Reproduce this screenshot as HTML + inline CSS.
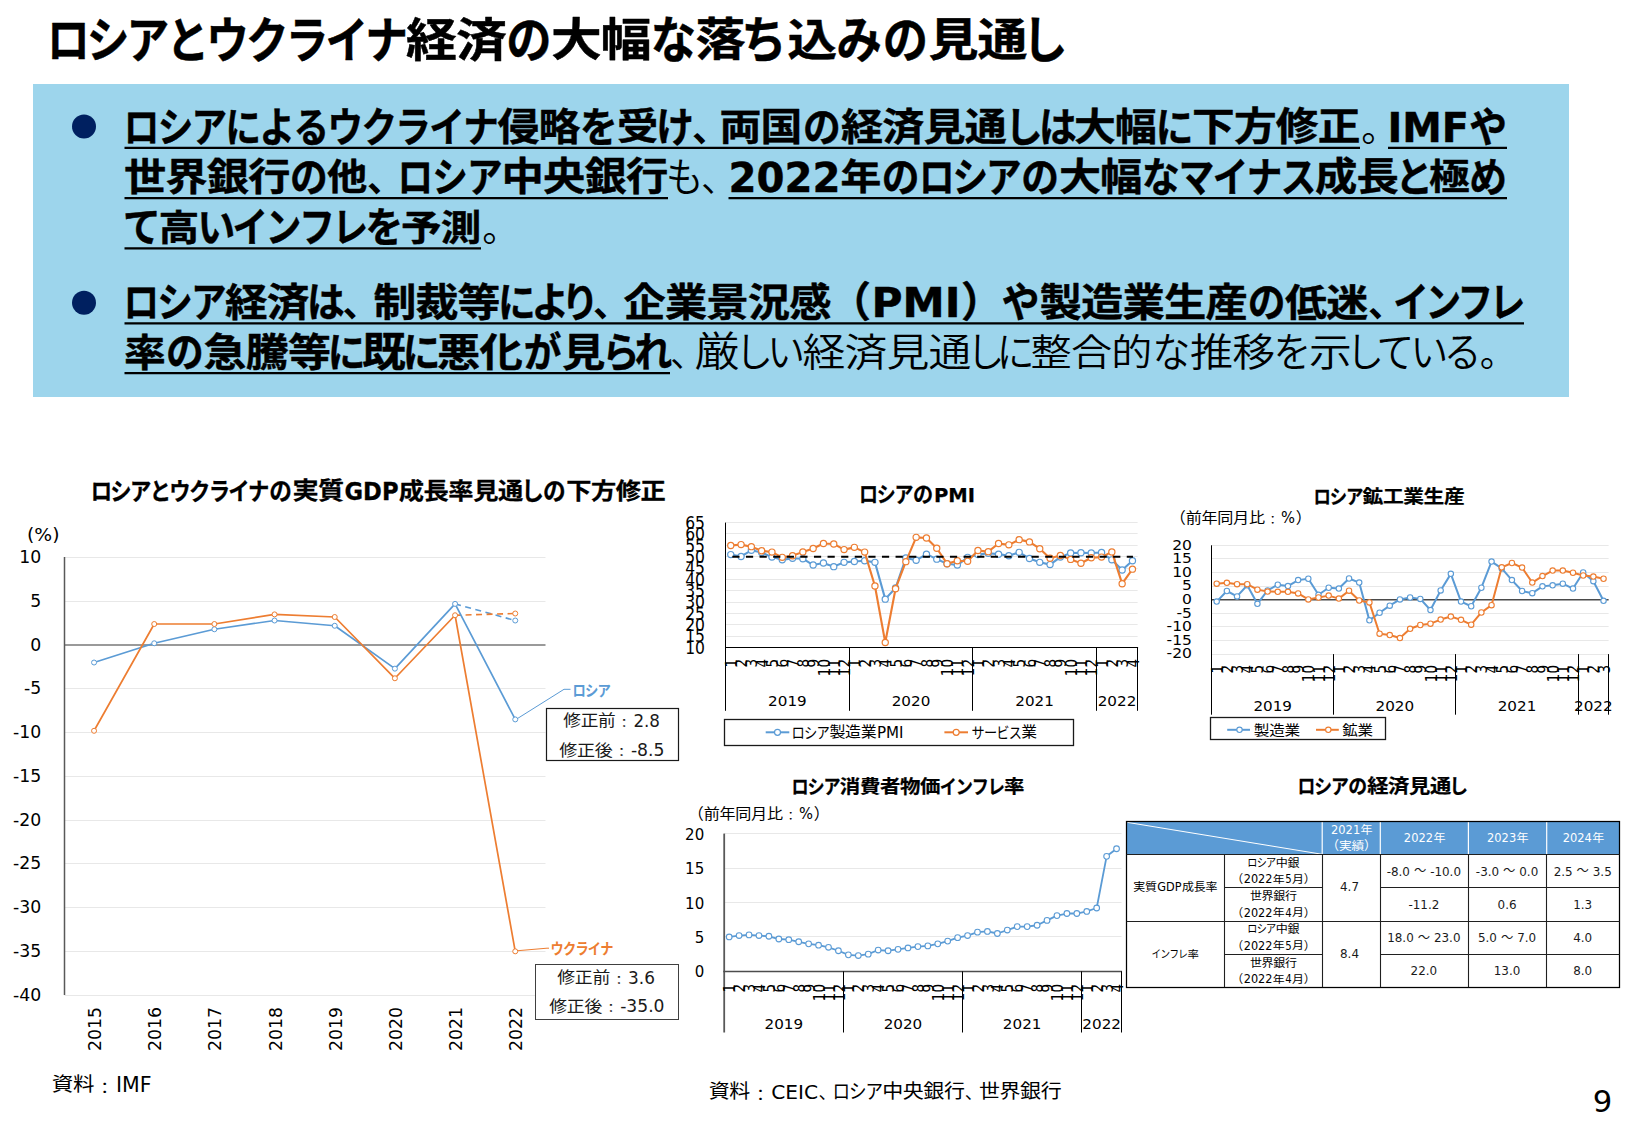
<!DOCTYPE html>
<html lang="ja"><head><meta charset="utf-8"><title>ロシアとウクライナ経済の大幅な落ち込みの見通し</title>
<style>
html,body{margin:0;padding:0;background:#fff;}
body{width:1625px;height:1125px;overflow:hidden;font-family:"Liberation Sans","Noto Sans CJK JP",sans-serif;}
svg{display:block;}
text{white-space:pre;}
</style></head><body>
<svg width="1625" height="1125" viewBox="0 0 1625 1125">
<text transform="translate(68.39,58.20) scale(0.8750,1.0000)" x="-24.38 21.09 66.55 112.01 157.47 202.93 248.39 293.85 339.31" y="0" font-size="48.75" font-weight="700" fill="#000" stroke="#000" stroke-width="0.5" stroke-linejoin="round" font-family='"Liberation Sans","Noto Sans CJK JP",sans-serif'>ロシアとウクライナ</text>
<text transform="translate(431.50,56.20) scale(1.0200,0.9200)" x="-25.00 24.02" y="0" font-size="50.00" font-weight="700" fill="#000" stroke="#000" stroke-width="0.5" stroke-linejoin="round" font-family='"Liberation Sans","Noto Sans CJK JP",sans-serif'>経済</text>
<text transform="translate(529.00,58.20) scale(0.9150,1.0000)" x="-24.75" y="0" font-size="49.50" font-weight="700" fill="#000" stroke="#000" stroke-width="0.5" stroke-linejoin="round" font-family='"Liberation Sans","Noto Sans CJK JP",sans-serif'>の</text>
<text transform="translate(576.38,56.20) scale(1.0200,0.9200)" x="-24.88 23.90" y="0" font-size="49.75" font-weight="700" fill="#000" stroke="#000" stroke-width="0.5" stroke-linejoin="round" font-family='"Liberation Sans","Noto Sans CJK JP",sans-serif'>大幅</text>
<text transform="translate(673.50,58.20) scale(0.9150,1.0000)" x="-24.75" y="0" font-size="49.50" font-weight="700" fill="#000" stroke="#000" stroke-width="0.5" stroke-linejoin="round" font-family='"Liberation Sans","Noto Sans CJK JP",sans-serif'>な</text>
<text transform="translate(720.50,56.20) scale(1.0200,0.9200)" x="-24.50" y="0" font-size="49.00" font-weight="700" fill="#000" stroke="#000" stroke-width="0.5" stroke-linejoin="round" font-family='"Liberation Sans","Noto Sans CJK JP",sans-serif'>落</text>
<text transform="translate(764.00,58.20) scale(0.9150,1.0000)" x="-24.75" y="0" font-size="49.50" font-weight="700" fill="#000" stroke="#000" stroke-width="0.5" stroke-linejoin="round" font-family='"Liberation Sans","Noto Sans CJK JP",sans-serif'>ち</text>
<text transform="translate(812.25,56.20) scale(1.0200,0.9200)" x="-24.25" y="0" font-size="48.50" font-weight="700" fill="#000" stroke="#000" stroke-width="0.5" stroke-linejoin="round" font-family='"Liberation Sans","Noto Sans CJK JP",sans-serif'>込</text>
<text transform="translate(859.25,58.20) scale(0.9150,1.0000)" x="-24.75" y="0" font-size="49.50" font-weight="700" fill="#000" stroke="#000" stroke-width="0.5" stroke-linejoin="round" font-family='"Liberation Sans","Noto Sans CJK JP",sans-serif'>み</text>
<text transform="translate(905.50,58.20) scale(0.9150,1.0000)" x="-24.75" y="0" font-size="49.50" font-weight="700" fill="#000" stroke="#000" stroke-width="0.5" stroke-linejoin="round" font-family='"Liberation Sans","Noto Sans CJK JP",sans-serif'>の</text>
<text transform="translate(953.50,56.20) scale(1.0200,0.9200)" x="-24.50 23.54" y="0" font-size="49.00" font-weight="700" fill="#000" stroke="#000" stroke-width="0.5" stroke-linejoin="round" font-family='"Liberation Sans","Noto Sans CJK JP",sans-serif'>見通</text>
<text transform="translate(1045.00,58.20) scale(0.9150,1.0000)" x="-24.75" y="0" font-size="49.50" font-weight="700" fill="#000" stroke="#000" stroke-width="0.5" stroke-linejoin="round" font-family='"Liberation Sans","Noto Sans CJK JP",sans-serif'>し</text>
<rect x="33.00" y="84.00" width="1536.00" height="313.00" fill="#9dd5ec" stroke="none" stroke-width="1" />
<circle cx="84" cy="126.5" r="12" fill="#002060"/>
<circle cx="84" cy="302.8" r="12" fill="#002060"/>
<text transform="translate(141.48,141.60) scale(0.8750,1.0000)" x="-20.31 18.49 57.30 96.10 134.91 173.71 212.52 251.32 290.13 328.93 367.74" y="0" font-size="40.63" font-weight="700" fill="#000" stroke="#000" stroke-width="0.45" stroke-linejoin="round" font-family='"Liberation Sans","Noto Sans CJK JP",sans-serif'>ロシアによるウクライナ</text>
<text transform="translate(518.50,139.93) scale(1.0200,0.9200)" x="-20.50 19.70" y="0" font-size="41.00" font-weight="700" fill="#000" stroke="#000" stroke-width="0.45" stroke-linejoin="round" font-family='"Liberation Sans","Noto Sans CJK JP",sans-serif'>侵略</text>
<text transform="translate(598.75,141.60) scale(0.9150,1.0000)" x="-20.63" y="0" font-size="41.25" font-weight="700" fill="#000" stroke="#000" stroke-width="0.45" stroke-linejoin="round" font-family='"Liberation Sans","Noto Sans CJK JP",sans-serif'>を</text>
<text transform="translate(637.75,139.93) scale(1.0200,0.9200)" x="-20.25" y="0" font-size="40.50" font-weight="700" fill="#000" stroke="#000" stroke-width="0.45" stroke-linejoin="round" font-family='"Liberation Sans","Noto Sans CJK JP",sans-serif'>受</text>
<text transform="translate(675.00,141.60) scale(0.9150,1.0000)" x="-20.63" y="0" font-size="41.25" font-weight="700" fill="#000" stroke="#000" stroke-width="0.45" stroke-linejoin="round" font-family='"Liberation Sans","Noto Sans CJK JP",sans-serif'>け</text>
<text transform="translate(710.33,141.60) scale(1.0000,1.0000)" x="-18.33" y="0" font-size="36.67" font-weight="700" fill="#000" font-family='"Liberation Sans","Noto Sans CJK JP",sans-serif'>、</text>
<text transform="translate(740.50,139.93) scale(1.0200,0.9200)" x="-20.50 19.70" y="0" font-size="41.00" font-weight="700" fill="#000" stroke="#000" stroke-width="0.45" stroke-linejoin="round" font-family='"Liberation Sans","Noto Sans CJK JP",sans-serif'>両国</text>
<text transform="translate(821.75,141.60) scale(0.9150,1.0000)" x="-20.63" y="0" font-size="41.25" font-weight="700" fill="#000" stroke="#000" stroke-width="0.45" stroke-linejoin="round" font-family='"Liberation Sans","Noto Sans CJK JP",sans-serif'>の</text>
<text transform="translate(862.12,139.93) scale(1.0200,0.9200)" x="-20.62 19.82 60.26 100.70" y="0" font-size="41.25" font-weight="700" fill="#000" stroke="#000" stroke-width="0.45" stroke-linejoin="round" font-family='"Liberation Sans","Noto Sans CJK JP",sans-serif'>経済見通</text>
<text transform="translate(1023.75,141.60) scale(0.9150,1.0000)" x="-20.63" y="0" font-size="41.25" font-weight="700" fill="#000" stroke="#000" stroke-width="0.45" stroke-linejoin="round" font-family='"Liberation Sans","Noto Sans CJK JP",sans-serif'>し</text>
<text transform="translate(1057.75,141.60) scale(0.9150,1.0000)" x="-20.63" y="0" font-size="41.25" font-weight="700" fill="#000" stroke="#000" stroke-width="0.45" stroke-linejoin="round" font-family='"Liberation Sans","Noto Sans CJK JP",sans-serif'>は</text>
<text transform="translate(1095.00,139.93) scale(1.0200,0.9200)" x="-20.50 19.70" y="0" font-size="41.00" font-weight="700" fill="#000" stroke="#000" stroke-width="0.45" stroke-linejoin="round" font-family='"Liberation Sans","Noto Sans CJK JP",sans-serif'>大幅</text>
<text transform="translate(1174.50,141.60) scale(0.9150,1.0000)" x="-20.63" y="0" font-size="41.25" font-weight="700" fill="#000" stroke="#000" stroke-width="0.45" stroke-linejoin="round" font-family='"Liberation Sans","Noto Sans CJK JP",sans-serif'>に</text>
<text transform="translate(1213.44,139.93) scale(1.0200,0.9200)" x="-20.94 20.12 61.17 102.22" y="0" font-size="41.88" font-weight="700" fill="#000" stroke="#000" stroke-width="0.45" stroke-linejoin="round" font-family='"Liberation Sans","Noto Sans CJK JP",sans-serif'>下方修正</text>
<text transform="translate(1379.58,141.60) scale(1.0000,1.0000)" x="-18.33" y="0" font-size="36.67" font-weight="350" fill="#000" font-family='"Liberation Sans","Noto Sans CJK JP",sans-serif'>。</text>
<text x="1387.50" y="141.60" font-size="40.84" font-weight="700" fill="#000" stroke="#000" stroke-width="0.45" textLength="81.50" lengthAdjust="spacingAndGlyphs" font-family='"DejaVu Sans","Noto Sans CJK JP",sans-serif'>IMF</text>
<text transform="translate(1488.00,141.60) scale(0.9150,1.0000)" x="-20.63" y="0" font-size="41.25" font-weight="700" fill="#000" stroke="#000" stroke-width="0.45" stroke-linejoin="round" font-family='"Liberation Sans","Noto Sans CJK JP",sans-serif'>や</text>
<line x1="124.50" y1="147.80" x2="1360.00" y2="147.80" stroke="#000" stroke-width="2.2" />
<line x1="1388.00" y1="147.80" x2="1507.00" y2="147.80" stroke="#000" stroke-width="2.2" />
<text transform="translate(145.19,190.23) scale(1.0200,0.9200)" x="-20.69 19.88 60.44 101.00" y="0" font-size="41.38" font-weight="700" fill="#000" stroke="#000" stroke-width="0.45" stroke-linejoin="round" font-family='"Liberation Sans","Noto Sans CJK JP",sans-serif'>世界銀行</text>
<text transform="translate(308.75,191.90) scale(0.9150,1.0000)" x="-20.63" y="0" font-size="41.25" font-weight="700" fill="#000" stroke="#000" stroke-width="0.45" stroke-linejoin="round" font-family='"Liberation Sans","Noto Sans CJK JP",sans-serif'>の</text>
<text transform="translate(347.25,190.23) scale(1.0200,0.9200)" x="-19.75" y="0" font-size="39.50" font-weight="700" fill="#000" stroke="#000" stroke-width="0.45" stroke-linejoin="round" font-family='"Liberation Sans","Noto Sans CJK JP",sans-serif'>他</text>
<text transform="translate(385.33,191.90) scale(1.0000,1.0000)" x="-18.33" y="0" font-size="36.67" font-weight="700" fill="#000" font-family='"Liberation Sans","Noto Sans CJK JP",sans-serif'>、</text>
<text transform="translate(415.33,191.90) scale(0.8750,1.0000)" x="-20.31 19.30 58.92" y="0" font-size="40.63" font-weight="700" fill="#000" stroke="#000" stroke-width="0.45" stroke-linejoin="round" font-family='"Liberation Sans","Noto Sans CJK JP",sans-serif'>ロシア</text>
<text transform="translate(522.75,190.23) scale(1.0200,0.9200)" x="-20.75 19.94 60.62 101.31" y="0" font-size="41.50" font-weight="700" fill="#000" stroke="#000" stroke-width="0.45" stroke-linejoin="round" font-family='"Liberation Sans","Noto Sans CJK JP",sans-serif'>中央銀行</text>
<text transform="translate(684.50,191.90) scale(0.9150,1.0000)" x="-20.63" y="0" font-size="41.25" font-weight="350" fill="#000" font-family='"Liberation Sans","Noto Sans CJK JP",sans-serif'>も</text>
<text transform="translate(719.33,191.90) scale(1.0000,1.0000)" x="-18.33" y="0" font-size="36.67" font-weight="350" fill="#000" font-family='"Liberation Sans","Noto Sans CJK JP",sans-serif'>、</text>
<text x="728.50" y="191.90" font-size="40.84" font-weight="700" fill="#000" stroke="#000" stroke-width="0.45" textLength="112.00" lengthAdjust="spacingAndGlyphs" font-family='"DejaVu Sans","Noto Sans CJK JP",sans-serif'>2022</text>
<text transform="translate(861.00,190.23) scale(1.0200,0.9200)" x="-20.00" y="0" font-size="40.00" font-weight="700" fill="#000" stroke="#000" stroke-width="0.45" stroke-linejoin="round" font-family='"Liberation Sans","Noto Sans CJK JP",sans-serif'>年</text>
<text transform="translate(900.50,191.90) scale(0.9150,1.0000)" x="-20.63" y="0" font-size="41.25" font-weight="700" fill="#000" stroke="#000" stroke-width="0.45" stroke-linejoin="round" font-family='"Liberation Sans","Noto Sans CJK JP",sans-serif'>の</text>
<text transform="translate(936.75,191.90) scale(0.8750,1.0000)" x="-20.31 17.97 56.26" y="0" font-size="40.63" font-weight="700" fill="#000" stroke="#000" stroke-width="0.45" stroke-linejoin="round" font-family='"Liberation Sans","Noto Sans CJK JP",sans-serif'>ロシア</text>
<text transform="translate(1040.00,191.90) scale(0.9150,1.0000)" x="-20.63" y="0" font-size="41.25" font-weight="700" fill="#000" stroke="#000" stroke-width="0.45" stroke-linejoin="round" font-family='"Liberation Sans","Noto Sans CJK JP",sans-serif'>の</text>
<text transform="translate(1080.12,190.23) scale(1.0200,0.9200)" x="-20.62 19.82" y="0" font-size="41.25" font-weight="700" fill="#000" stroke="#000" stroke-width="0.45" stroke-linejoin="round" font-family='"Liberation Sans","Noto Sans CJK JP",sans-serif'>大幅</text>
<text transform="translate(1160.75,191.90) scale(0.9150,1.0000)" x="-20.63" y="0" font-size="41.25" font-weight="700" fill="#000" stroke="#000" stroke-width="0.45" stroke-linejoin="round" font-family='"Liberation Sans","Noto Sans CJK JP",sans-serif'>な</text>
<text transform="translate(1196.50,191.90) scale(0.8750,1.0000)" x="-20.31 18.54 57.40 96.26" y="0" font-size="40.63" font-weight="700" fill="#000" stroke="#000" stroke-width="0.45" stroke-linejoin="round" font-family='"Liberation Sans","Noto Sans CJK JP",sans-serif'>マイナス</text>
<text transform="translate(1336.25,190.23) scale(1.0200,0.9200)" x="-20.75 19.94" y="0" font-size="41.50" font-weight="700" fill="#000" stroke="#000" stroke-width="0.45" stroke-linejoin="round" font-family='"Liberation Sans","Noto Sans CJK JP",sans-serif'>成長</text>
<text transform="translate(1414.00,191.90) scale(0.9150,1.0000)" x="-20.63" y="0" font-size="41.25" font-weight="700" fill="#000" stroke="#000" stroke-width="0.45" stroke-linejoin="round" font-family='"Liberation Sans","Noto Sans CJK JP",sans-serif'>と</text>
<text transform="translate(1449.50,190.23) scale(1.0200,0.9200)" x="-20.00" y="0" font-size="40.00" font-weight="700" fill="#000" stroke="#000" stroke-width="0.45" stroke-linejoin="round" font-family='"Liberation Sans","Noto Sans CJK JP",sans-serif'>極</text>
<text transform="translate(1488.00,191.90) scale(0.9150,1.0000)" x="-20.63" y="0" font-size="41.25" font-weight="700" fill="#000" stroke="#000" stroke-width="0.45" stroke-linejoin="round" font-family='"Liberation Sans","Noto Sans CJK JP",sans-serif'>め</text>
<line x1="124.50" y1="198.10" x2="668.00" y2="198.10" stroke="#000" stroke-width="2.2" />
<line x1="728.50" y1="198.10" x2="1507.00" y2="198.10" stroke="#000" stroke-width="2.2" />
<text transform="translate(141.75,242.20) scale(0.9150,1.0000)" x="-20.63" y="0" font-size="41.25" font-weight="700" fill="#000" stroke="#000" stroke-width="0.45" stroke-linejoin="round" font-family='"Liberation Sans","Noto Sans CJK JP",sans-serif'>て</text>
<text transform="translate(179.00,240.53) scale(1.0200,0.9200)" x="-20.00" y="0" font-size="40.00" font-weight="700" fill="#000" stroke="#000" stroke-width="0.45" stroke-linejoin="round" font-family='"Liberation Sans","Noto Sans CJK JP",sans-serif'>高</text>
<text transform="translate(216.25,242.20) scale(0.9150,1.0000)" x="-20.63" y="0" font-size="41.25" font-weight="700" fill="#000" stroke="#000" stroke-width="0.45" stroke-linejoin="round" font-family='"Liberation Sans","Noto Sans CJK JP",sans-serif'>い</text>
<text transform="translate(250.19,242.20) scale(0.8750,1.0000)" x="-20.31 17.83 55.97 94.11" y="0" font-size="40.63" font-weight="700" fill="#000" stroke="#000" stroke-width="0.45" stroke-linejoin="round" font-family='"Liberation Sans","Noto Sans CJK JP",sans-serif'>インフレ</text>
<text transform="translate(384.25,242.20) scale(0.9150,1.0000)" x="-20.63" y="0" font-size="41.25" font-weight="700" fill="#000" stroke="#000" stroke-width="0.45" stroke-linejoin="round" font-family='"Liberation Sans","Noto Sans CJK JP",sans-serif'>を</text>
<text transform="translate(421.38,240.53) scale(1.0200,0.9200)" x="-19.88 19.10" y="0" font-size="39.75" font-weight="700" fill="#000" stroke="#000" stroke-width="0.45" stroke-linejoin="round" font-family='"Liberation Sans","Noto Sans CJK JP",sans-serif'>予測</text>
<text transform="translate(500.58,242.20) scale(1.0000,1.0000)" x="-18.33" y="0" font-size="36.67" font-weight="350" fill="#000" font-family='"Liberation Sans","Noto Sans CJK JP",sans-serif'>。</text>
<line x1="124.50" y1="248.40" x2="481.00" y2="248.40" stroke="#000" stroke-width="2.2" />
<text transform="translate(141.33,317.20) scale(0.8750,1.0000)" x="-20.31 18.16 56.64" y="0" font-size="40.63" font-weight="700" fill="#000" stroke="#000" stroke-width="0.45" stroke-linejoin="round" font-family='"Liberation Sans","Noto Sans CJK JP",sans-serif'>ロシア</text>
<text transform="translate(246.38,315.53) scale(1.0200,0.9200)" x="-20.88 20.06" y="0" font-size="41.75" font-weight="700" fill="#000" stroke="#000" stroke-width="0.45" stroke-linejoin="round" font-family='"Liberation Sans","Noto Sans CJK JP",sans-serif'>経済</text>
<text transform="translate(325.75,317.20) scale(0.9150,1.0000)" x="-20.63" y="0" font-size="41.25" font-weight="700" fill="#000" stroke="#000" stroke-width="0.45" stroke-linejoin="round" font-family='"Liberation Sans","Noto Sans CJK JP",sans-serif'>は</text>
<text transform="translate(360.83,317.20) scale(1.0000,1.0000)" x="-18.33" y="0" font-size="36.67" font-weight="700" fill="#000" font-family='"Liberation Sans","Noto Sans CJK JP",sans-serif'>、</text>
<text transform="translate(395.00,315.53) scale(1.0200,0.9200)" x="-21.00 20.18 61.35" y="0" font-size="42.00" font-weight="700" fill="#000" stroke="#000" stroke-width="0.45" stroke-linejoin="round" font-family='"Liberation Sans","Noto Sans CJK JP",sans-serif'>制裁等</text>
<text transform="translate(516.75,317.20) scale(0.9150,1.0000)" x="-20.63" y="0" font-size="41.25" font-weight="700" fill="#000" stroke="#000" stroke-width="0.45" stroke-linejoin="round" font-family='"Liberation Sans","Noto Sans CJK JP",sans-serif'>に</text>
<text transform="translate(550.25,317.20) scale(0.9150,1.0000)" x="-20.63" y="0" font-size="41.25" font-weight="700" fill="#000" stroke="#000" stroke-width="0.45" stroke-linejoin="round" font-family='"Liberation Sans","Noto Sans CJK JP",sans-serif'>よ</text>
<text transform="translate(580.00,317.20) scale(0.9150,1.0000)" x="-20.63" y="0" font-size="41.25" font-weight="700" fill="#000" stroke="#000" stroke-width="0.45" stroke-linejoin="round" font-family='"Liberation Sans","Noto Sans CJK JP",sans-serif'>り</text>
<text transform="translate(611.33,317.20) scale(1.0000,1.0000)" x="-18.33" y="0" font-size="36.67" font-weight="700" fill="#000" font-family='"Liberation Sans","Noto Sans CJK JP",sans-serif'>、</text>
<text transform="translate(644.70,315.53) scale(1.0200,0.9200)" x="-20.70 19.89 60.48 101.06 141.65" y="0" font-size="41.40" font-weight="700" fill="#000" stroke="#000" stroke-width="0.45" stroke-linejoin="round" font-family='"Liberation Sans","Noto Sans CJK JP",sans-serif'>企業景況感</text>
<text transform="translate(850.16,317.20) scale(1.0000,1.0000)" x="-20.84" y="0" font-size="41.67" font-weight="700" fill="#000" stroke="#000" stroke-width="0.45" stroke-linejoin="round" font-family='"Liberation Sans","Noto Sans CJK JP",sans-serif'>（</text>
<text x="871.50" y="317.20" font-size="40.84" font-weight="700" fill="#000" stroke="#000" stroke-width="0.45" textLength="89.00" lengthAdjust="spacingAndGlyphs" font-family='"DejaVu Sans","Noto Sans CJK JP",sans-serif'>PMI</text>
<text transform="translate(981.84,317.20) scale(1.0000,1.0000)" x="-20.84" y="0" font-size="41.67" font-weight="700" fill="#000" stroke="#000" stroke-width="0.45" stroke-linejoin="round" font-family='"Liberation Sans","Noto Sans CJK JP",sans-serif'>）</text>
<text transform="translate(1020.50,317.20) scale(0.9150,1.0000)" x="-20.63" y="0" font-size="41.25" font-weight="700" fill="#000" stroke="#000" stroke-width="0.45" stroke-linejoin="round" font-family='"Liberation Sans","Noto Sans CJK JP",sans-serif'>や</text>
<text transform="translate(1060.75,315.53) scale(1.0200,0.9200)" x="-20.75 19.94 60.62 101.31 142.00" y="0" font-size="41.50" font-weight="700" fill="#000" stroke="#000" stroke-width="0.45" stroke-linejoin="round" font-family='"Liberation Sans","Noto Sans CJK JP",sans-serif'>製造業生産</text>
<text transform="translate(1266.50,317.20) scale(0.9150,1.0000)" x="-20.63" y="0" font-size="41.25" font-weight="700" fill="#000" stroke="#000" stroke-width="0.45" stroke-linejoin="round" font-family='"Liberation Sans","Noto Sans CJK JP",sans-serif'>の</text>
<text transform="translate(1306.12,315.53) scale(1.0200,0.9200)" x="-20.62 19.82" y="0" font-size="41.25" font-weight="700" fill="#000" stroke="#000" stroke-width="0.45" stroke-linejoin="round" font-family='"Liberation Sans","Noto Sans CJK JP",sans-serif'>低迷</text>
<text transform="translate(1386.33,317.20) scale(1.0000,1.0000)" x="-18.33" y="0" font-size="36.67" font-weight="700" fill="#000" font-family='"Liberation Sans","Noto Sans CJK JP",sans-serif'>、</text>
<text transform="translate(1411.06,317.20) scale(0.8750,1.0000)" x="-20.31 16.40 53.11 89.83" y="0" font-size="40.63" font-weight="700" fill="#000" stroke="#000" stroke-width="0.45" stroke-linejoin="round" font-family='"Liberation Sans","Noto Sans CJK JP",sans-serif'>インフレ</text>
<line x1="124.50" y1="323.30" x2="1524.00" y2="323.30" stroke="#000" stroke-width="2.2" />
<text transform="translate(145.00,365.53) scale(1.0200,0.9200)" x="-20.50" y="0" font-size="41.00" font-weight="700" fill="#000" stroke="#000" stroke-width="0.45" stroke-linejoin="round" font-family='"Liberation Sans","Noto Sans CJK JP",sans-serif'>率</text>
<text transform="translate(184.75,367.20) scale(0.9150,1.0000)" x="-20.63" y="0" font-size="41.25" font-weight="700" fill="#000" stroke="#000" stroke-width="0.45" stroke-linejoin="round" font-family='"Liberation Sans","Noto Sans CJK JP",sans-serif'>の</text>
<text transform="translate(225.08,365.53) scale(1.0200,0.9200)" x="-21.08 20.26 61.60" y="0" font-size="42.17" font-weight="700" fill="#000" stroke="#000" stroke-width="0.45" stroke-linejoin="round" font-family='"Liberation Sans","Noto Sans CJK JP",sans-serif'>急騰等</text>
<text transform="translate(346.50,367.20) scale(0.9150,1.0000)" x="-20.63" y="0" font-size="41.25" font-weight="700" fill="#000" stroke="#000" stroke-width="0.45" stroke-linejoin="round" font-family='"Liberation Sans","Noto Sans CJK JP",sans-serif'>に</text>
<text transform="translate(384.00,365.53) scale(1.0200,0.9200)" x="-21.50" y="0" font-size="43.00" font-weight="700" fill="#000" stroke="#000" stroke-width="0.45" stroke-linejoin="round" font-family='"Liberation Sans","Noto Sans CJK JP",sans-serif'>既</text>
<text transform="translate(421.50,367.20) scale(0.9150,1.0000)" x="-20.63" y="0" font-size="41.25" font-weight="700" fill="#000" stroke="#000" stroke-width="0.45" stroke-linejoin="round" font-family='"Liberation Sans","Noto Sans CJK JP",sans-serif'>に</text>
<text transform="translate(458.75,365.53) scale(1.0200,0.9200)" x="-21.25 20.42" y="0" font-size="42.50" font-weight="700" fill="#000" stroke="#000" stroke-width="0.45" stroke-linejoin="round" font-family='"Liberation Sans","Noto Sans CJK JP",sans-serif'>悪化</text>
<text transform="translate(542.50,367.20) scale(0.9150,1.0000)" x="-20.63" y="0" font-size="41.25" font-weight="700" fill="#000" stroke="#000" stroke-width="0.45" stroke-linejoin="round" font-family='"Liberation Sans","Noto Sans CJK JP",sans-serif'>が</text>
<text transform="translate(583.75,365.53) scale(1.0200,0.9200)" x="-21.25" y="0" font-size="42.50" font-weight="700" fill="#000" stroke="#000" stroke-width="0.45" stroke-linejoin="round" font-family='"Liberation Sans","Noto Sans CJK JP",sans-serif'>見</text>
<text transform="translate(620.75,367.20) scale(0.9150,1.0000)" x="-20.63" y="0" font-size="41.25" font-weight="700" fill="#000" stroke="#000" stroke-width="0.45" stroke-linejoin="round" font-family='"Liberation Sans","Noto Sans CJK JP",sans-serif'>ら</text>
<text transform="translate(653.25,367.20) scale(0.9150,1.0000)" x="-20.63" y="0" font-size="41.25" font-weight="700" fill="#000" stroke="#000" stroke-width="0.45" stroke-linejoin="round" font-family='"Liberation Sans","Noto Sans CJK JP",sans-serif'>れ</text>
<text transform="translate(688.33,367.20) scale(1.0000,1.0000)" x="-18.33" y="0" font-size="36.67" font-weight="350" fill="#000" font-family='"Liberation Sans","Noto Sans CJK JP",sans-serif'>、</text>
<text transform="translate(717.00,365.53) scale(1.0200,0.9200)" x="-22.00" y="0" font-size="44.00" font-weight="350" fill="#000" font-family='"Liberation Sans","Noto Sans CJK JP",sans-serif'>厳</text>
<text transform="translate(754.00,367.20) scale(0.9150,1.0000)" x="-20.63" y="0" font-size="41.25" font-weight="350" fill="#000" font-family='"Liberation Sans","Noto Sans CJK JP",sans-serif'>し</text>
<text transform="translate(786.00,367.20) scale(0.9150,1.0000)" x="-20.63" y="0" font-size="41.25" font-weight="350" fill="#000" font-family='"Liberation Sans","Noto Sans CJK JP",sans-serif'>い</text>
<text transform="translate(824.00,365.53) scale(1.0200,0.9200)" x="-21.00 20.18 61.35 102.53" y="0" font-size="42.00" font-weight="350" fill="#000" font-family='"Liberation Sans","Noto Sans CJK JP",sans-serif'>経済見通</text>
<text transform="translate(985.50,367.20) scale(0.9150,1.0000)" x="-20.63" y="0" font-size="41.25" font-weight="350" fill="#000" font-family='"Liberation Sans","Noto Sans CJK JP",sans-serif'>し</text>
<text transform="translate(1015.50,367.20) scale(0.9150,1.0000)" x="-20.63" y="0" font-size="41.25" font-weight="350" fill="#000" font-family='"Liberation Sans","Noto Sans CJK JP",sans-serif'>に</text>
<text transform="translate(1051.17,365.53) scale(1.0200,0.9200)" x="-20.17 19.38 58.92" y="0" font-size="40.33" font-weight="350" fill="#000" font-family='"Liberation Sans","Noto Sans CJK JP",sans-serif'>整合的</text>
<text transform="translate(1171.25,367.20) scale(0.9150,1.0000)" x="-20.63" y="0" font-size="41.25" font-weight="350" fill="#000" font-family='"Liberation Sans","Noto Sans CJK JP",sans-serif'>な</text>
<text transform="translate(1211.62,365.53) scale(1.0200,0.9200)" x="-21.12 20.30" y="0" font-size="42.25" font-weight="350" fill="#000" font-family='"Liberation Sans","Noto Sans CJK JP",sans-serif'>推移</text>
<text transform="translate(1292.25,367.20) scale(0.9150,1.0000)" x="-20.63" y="0" font-size="41.25" font-weight="350" fill="#000" font-family='"Liberation Sans","Noto Sans CJK JP",sans-serif'>を</text>
<text transform="translate(1330.50,365.53) scale(1.0200,0.9200)" x="-21.00" y="0" font-size="42.00" font-weight="350" fill="#000" font-family='"Liberation Sans","Noto Sans CJK JP",sans-serif'>示</text>
<text transform="translate(1365.00,367.20) scale(0.9150,1.0000)" x="-20.63" y="0" font-size="41.25" font-weight="350" fill="#000" font-family='"Liberation Sans","Noto Sans CJK JP",sans-serif'>し</text>
<text transform="translate(1395.25,367.20) scale(0.9150,1.0000)" x="-20.63" y="0" font-size="41.25" font-weight="350" fill="#000" font-family='"Liberation Sans","Noto Sans CJK JP",sans-serif'>て</text>
<text transform="translate(1429.25,367.20) scale(0.9150,1.0000)" x="-20.63" y="0" font-size="41.25" font-weight="350" fill="#000" font-family='"Liberation Sans","Noto Sans CJK JP",sans-serif'>い</text>
<text transform="translate(1462.50,367.20) scale(0.9150,1.0000)" x="-20.63" y="0" font-size="41.25" font-weight="350" fill="#000" font-family='"Liberation Sans","Noto Sans CJK JP",sans-serif'>る</text>
<text transform="translate(1498.08,367.20) scale(1.0000,1.0000)" x="-18.33" y="0" font-size="36.67" font-weight="350" fill="#000" font-family='"Liberation Sans","Noto Sans CJK JP",sans-serif'>。</text>
<line x1="124.50" y1="373.20" x2="670.00" y2="373.20" stroke="#000" stroke-width="2.2" />
<text transform="translate(101.33,499.60) scale(0.8750,1.0000)" x="-12.19 10.29 32.76 55.24 77.72 100.19 122.67 145.15 167.62" y="0" font-size="24.38" font-weight="700" fill="#000" stroke="#000" stroke-width="0.3" stroke-linejoin="round" font-family='"Liberation Sans","Noto Sans CJK JP",sans-serif'>ロシアとウクライナ</text>
<text transform="translate(280.60,499.60) scale(0.9150,1.0000)" x="-12.38" y="0" font-size="24.75" font-weight="700" fill="#000" stroke="#000" stroke-width="0.3" stroke-linejoin="round" font-family='"Liberation Sans","Noto Sans CJK JP",sans-serif'>の</text>
<text transform="translate(305.52,498.60) scale(1.0200,0.9200)" x="-12.83 12.32" y="0" font-size="25.65" font-weight="700" fill="#000" stroke="#000" stroke-width="0.3" stroke-linejoin="round" font-family='"Liberation Sans","Noto Sans CJK JP",sans-serif'>実質</text>
<text x="344.50" y="499.60" font-size="24.50" font-weight="700" fill="#000" stroke="#000" stroke-width="0.3" textLength="54.00" lengthAdjust="spacingAndGlyphs" font-family='"DejaVu Sans","Noto Sans CJK JP",sans-serif'>GDP</text>
<text transform="translate(411.40,498.60) scale(1.0200,0.9200)" x="-12.40 11.91 36.23 60.54 84.85" y="0" font-size="24.80" font-weight="700" fill="#000" stroke="#000" stroke-width="0.3" stroke-linejoin="round" font-family='"Liberation Sans","Noto Sans CJK JP",sans-serif'>成長率見通</text>
<text transform="translate(532.50,499.60) scale(0.9150,1.0000)" x="-12.38" y="0" font-size="24.75" font-weight="700" fill="#000" stroke="#000" stroke-width="0.3" stroke-linejoin="round" font-family='"Liberation Sans","Noto Sans CJK JP",sans-serif'>し</text>
<text transform="translate(554.25,499.60) scale(0.9150,1.0000)" x="-12.38" y="0" font-size="24.75" font-weight="700" fill="#000" stroke="#000" stroke-width="0.3" stroke-linejoin="round" font-family='"Liberation Sans","Noto Sans CJK JP",sans-serif'>の</text>
<text transform="translate(578.88,498.60) scale(1.0200,0.9200)" x="-12.38 11.89 36.15 60.42" y="0" font-size="24.75" font-weight="700" fill="#000" stroke="#000" stroke-width="0.3" stroke-linejoin="round" font-family='"Liberation Sans","Noto Sans CJK JP",sans-serif'>下方修正</text>
<text x="27.00" y="541.30" font-size="17" fill="#000" textLength="32.50" lengthAdjust="spacingAndGlyphs" font-family='"DejaVu Sans","Noto Sans CJK JP",sans-serif' >(%)</text>
<line x1="64.50" y1="557.5" x2="545.50" y2="557.5" stroke="#e8e8e8" stroke-width="1"/>
<text x="41.30" y="563.00" font-size="17.3" fill="#000" text-anchor="end" font-family='"DejaVu Sans","Noto Sans CJK JP",sans-serif' >10</text>
<line x1="64.50" y1="601.5" x2="545.50" y2="601.5" stroke="#e8e8e8" stroke-width="1"/>
<text x="41.30" y="606.76" font-size="17.3" fill="#000" text-anchor="end" font-family='"DejaVu Sans","Noto Sans CJK JP",sans-serif' >5</text>
<text x="41.30" y="650.52" font-size="17.3" fill="#000" text-anchor="end" font-family='"DejaVu Sans","Noto Sans CJK JP",sans-serif' >0</text>
<line x1="64.50" y1="688.5" x2="545.50" y2="688.5" stroke="#e8e8e8" stroke-width="1"/>
<text x="41.30" y="694.28" font-size="17.3" fill="#000" text-anchor="end" font-family='"DejaVu Sans","Noto Sans CJK JP",sans-serif' >-5</text>
<line x1="64.50" y1="732.5" x2="545.50" y2="732.5" stroke="#e8e8e8" stroke-width="1"/>
<text x="41.30" y="738.04" font-size="17.3" fill="#000" text-anchor="end" font-family='"DejaVu Sans","Noto Sans CJK JP",sans-serif' >-10</text>
<line x1="64.50" y1="776.5" x2="545.50" y2="776.5" stroke="#e8e8e8" stroke-width="1"/>
<text x="41.30" y="781.80" font-size="17.3" fill="#000" text-anchor="end" font-family='"DejaVu Sans","Noto Sans CJK JP",sans-serif' >-15</text>
<line x1="64.50" y1="820.5" x2="545.50" y2="820.5" stroke="#e8e8e8" stroke-width="1"/>
<text x="41.30" y="825.56" font-size="17.3" fill="#000" text-anchor="end" font-family='"DejaVu Sans","Noto Sans CJK JP",sans-serif' >-20</text>
<line x1="64.50" y1="863.5" x2="545.50" y2="863.5" stroke="#e8e8e8" stroke-width="1"/>
<text x="41.30" y="869.32" font-size="17.3" fill="#000" text-anchor="end" font-family='"DejaVu Sans","Noto Sans CJK JP",sans-serif' >-25</text>
<line x1="64.50" y1="907.5" x2="545.50" y2="907.5" stroke="#e8e8e8" stroke-width="1"/>
<text x="41.30" y="913.08" font-size="17.3" fill="#000" text-anchor="end" font-family='"DejaVu Sans","Noto Sans CJK JP",sans-serif' >-30</text>
<line x1="64.50" y1="951.5" x2="545.50" y2="951.5" stroke="#e8e8e8" stroke-width="1"/>
<text x="41.30" y="956.84" font-size="17.3" fill="#000" text-anchor="end" font-family='"DejaVu Sans","Noto Sans CJK JP",sans-serif' >-35</text>
<line x1="64.50" y1="995.5" x2="545.50" y2="995.5" stroke="#e8e8e8" stroke-width="1"/>
<text x="41.30" y="1000.60" font-size="17.3" fill="#000" text-anchor="end" font-family='"DejaVu Sans","Noto Sans CJK JP",sans-serif' >-40</text>
<line x1="64.50" y1="645.02" x2="545.50" y2="645.02" stroke="#9a9a9a" stroke-width="2" />
<line x1="64.50" y1="557.00" x2="64.50" y2="995.10" stroke="#595959" stroke-width="1.5" />
<polyline points="455.07,603.89 515.24,620.51" fill="none" stroke="#5b9bd5" stroke-width="1.6" stroke-linejoin="round" stroke-dasharray="6 4.5"/>
<polyline points="455.07,615.26 515.24,613.51" fill="none" stroke="#ed7d31" stroke-width="1.6" stroke-linejoin="round" stroke-dasharray="6 4.5"/>
<polyline points="94.05,662.52 154.22,643.27 214.39,629.27 274.56,620.51 334.73,625.77 394.90,668.65 455.07,603.89 515.24,719.41" fill="none" stroke="#5b9bd5" stroke-width="1.7" stroke-linejoin="round" />
<polyline points="94.05,730.79 154.22,624.02 214.39,624.02 274.56,614.39 334.73,617.01 394.90,678.28 455.07,615.26 515.24,951.34" fill="none" stroke="#ed7d31" stroke-width="1.7" stroke-linejoin="round" />
<circle cx="94.05" cy="662.52" r="2.5" fill="#fff" stroke="#5b9bd5" stroke-width="1.0"/>
<circle cx="154.22" cy="643.27" r="2.5" fill="#fff" stroke="#5b9bd5" stroke-width="1.0"/>
<circle cx="214.39" cy="629.27" r="2.5" fill="#fff" stroke="#5b9bd5" stroke-width="1.0"/>
<circle cx="274.56" cy="620.51" r="2.5" fill="#fff" stroke="#5b9bd5" stroke-width="1.0"/>
<circle cx="334.73" cy="625.77" r="2.5" fill="#fff" stroke="#5b9bd5" stroke-width="1.0"/>
<circle cx="394.90" cy="668.65" r="2.5" fill="#fff" stroke="#5b9bd5" stroke-width="1.0"/>
<circle cx="455.07" cy="603.89" r="2.5" fill="#fff" stroke="#5b9bd5" stroke-width="1.0"/>
<circle cx="515.24" cy="719.41" r="2.5" fill="#fff" stroke="#5b9bd5" stroke-width="1.0"/>
<circle cx="94.05" cy="730.79" r="2.5" fill="#fff" stroke="#ed7d31" stroke-width="1.0"/>
<circle cx="154.22" cy="624.02" r="2.5" fill="#fff" stroke="#ed7d31" stroke-width="1.0"/>
<circle cx="214.39" cy="624.02" r="2.5" fill="#fff" stroke="#ed7d31" stroke-width="1.0"/>
<circle cx="274.56" cy="614.39" r="2.5" fill="#fff" stroke="#ed7d31" stroke-width="1.0"/>
<circle cx="334.73" cy="617.01" r="2.5" fill="#fff" stroke="#ed7d31" stroke-width="1.0"/>
<circle cx="394.90" cy="678.28" r="2.5" fill="#fff" stroke="#ed7d31" stroke-width="1.0"/>
<circle cx="455.07" cy="615.26" r="2.5" fill="#fff" stroke="#ed7d31" stroke-width="1.0"/>
<circle cx="515.24" cy="951.34" r="2.5" fill="#fff" stroke="#ed7d31" stroke-width="1.0"/>
<circle cx="515.24" cy="620.51" r="2.5" fill="#fff" stroke="#5b9bd5" stroke-width="1.0"/>
<circle cx="515.24" cy="613.51" r="2.5" fill="#fff" stroke="#ed7d31" stroke-width="1.0"/>
<text transform="translate(101.06,1006.90) rotate(-90)" text-anchor="end" font-size="17.3" font-family='"DejaVu Sans","Noto Sans CJK JP",sans-serif'>2015</text>
<text transform="translate(161.23,1006.90) rotate(-90)" text-anchor="end" font-size="17.3" font-family='"DejaVu Sans","Noto Sans CJK JP",sans-serif'>2016</text>
<text transform="translate(221.40,1006.90) rotate(-90)" text-anchor="end" font-size="17.3" font-family='"DejaVu Sans","Noto Sans CJK JP",sans-serif'>2017</text>
<text transform="translate(281.57,1006.90) rotate(-90)" text-anchor="end" font-size="17.3" font-family='"DejaVu Sans","Noto Sans CJK JP",sans-serif'>2018</text>
<text transform="translate(341.74,1006.90) rotate(-90)" text-anchor="end" font-size="17.3" font-family='"DejaVu Sans","Noto Sans CJK JP",sans-serif'>2019</text>
<text transform="translate(401.91,1006.90) rotate(-90)" text-anchor="end" font-size="17.3" font-family='"DejaVu Sans","Noto Sans CJK JP",sans-serif'>2020</text>
<text transform="translate(462.08,1006.90) rotate(-90)" text-anchor="end" font-size="17.3" font-family='"DejaVu Sans","Noto Sans CJK JP",sans-serif'>2021</text>
<text transform="translate(522.25,1006.90) rotate(-90)" text-anchor="end" font-size="17.3" font-family='"DejaVu Sans","Noto Sans CJK JP",sans-serif'>2022</text>
<polyline points="517.50,718.50 564.00,689.30 570.50,689.30" fill="none" stroke="#5b9bd5" stroke-width="1" stroke-linejoin="round" />
<text transform="translate(579.25,695.60) scale(0.8750,1.0000)" x="-7.62 6.67 20.95" y="0" font-size="15.23" font-weight="700" fill="#5b9bd5" font-family='"Liberation Sans","Noto Sans CJK JP",sans-serif'>ロシア</text>
<rect x="546.50" y="708.50" width="132.00" height="52.00" fill="#fff" stroke="#1a1a1a" stroke-width="1.2" />
<text transform="translate(572.18,726.31) scale(1.0200,0.9200)" x="-8.68 8.34 25.35" y="0" font-size="17.35" fill="#1a1a1a" font-family='"Liberation Sans","Noto Sans CJK JP",sans-serif'>修正前</text>
<text transform="translate(624.23,727.78) scale(0.8500,0.7000)" x="-8.68" y="0" font-size="17.35" fill="#1a1a1a" font-family='"Liberation Sans","Noto Sans CJK JP",sans-serif'>：</text>
<text x="633.41" y="727.00" font-size="17.20" fill="#1a1a1a" textLength="26.59" lengthAdjust="spacingAndGlyphs" font-family='"DejaVu Sans","Noto Sans CJK JP",sans-serif'>2.8</text>
<text transform="translate(568.36,755.59) scale(1.0200,0.9200)" x="-8.86 8.52 25.90" y="0" font-size="17.73" fill="#1a1a1a" font-family='"Liberation Sans","Noto Sans CJK JP",sans-serif'>修正後</text>
<text transform="translate(621.55,757.10) scale(0.8500,0.7000)" x="-8.86" y="0" font-size="17.73" fill="#1a1a1a" font-family='"Liberation Sans","Noto Sans CJK JP",sans-serif'>：</text>
<text x="630.91" y="756.30" font-size="17.20" fill="#1a1a1a" textLength="33.59" lengthAdjust="spacingAndGlyphs" font-family='"DejaVu Sans","Noto Sans CJK JP",sans-serif'>-8.5</text>
<polyline points="517.80,950.70 547.00,948.20 549.00,948.20" fill="none" stroke="#ed7d31" stroke-width="1" stroke-linejoin="round" />
<text transform="translate(557.20,954.30) scale(0.8750,1.0000)" x="-7.56 6.62 20.79 34.96 49.13" y="0" font-size="15.11" font-weight="700" fill="#ed7d31" font-family='"Liberation Sans","Noto Sans CJK JP",sans-serif'>ウクライナ</text>
<rect x="535.50" y="964.50" width="143.00" height="55.00" fill="#fff" stroke="#404040" stroke-width="1" />
<text transform="translate(566.27,983.10) scale(1.0200,0.9200)" x="-8.77 8.42 25.61" y="0" font-size="17.53" fill="#1a1a1a" font-family='"Liberation Sans","Noto Sans CJK JP",sans-serif'>修正前</text>
<text transform="translate(618.86,984.59) scale(0.8500,0.7000)" x="-8.77" y="0" font-size="17.53" fill="#1a1a1a" font-family='"Liberation Sans","Noto Sans CJK JP",sans-serif'>：</text>
<text x="628.12" y="983.80" font-size="17.20" fill="#1a1a1a" textLength="26.88" lengthAdjust="spacingAndGlyphs" font-family='"DejaVu Sans","Noto Sans CJK JP",sans-serif'>3.6</text>
<text transform="translate(558.27,1011.60) scale(1.0200,0.9200)" x="-8.77 8.42 25.61" y="0" font-size="17.53" fill="#1a1a1a" font-family='"Liberation Sans","Noto Sans CJK JP",sans-serif'>修正後</text>
<text transform="translate(610.87,1013.09) scale(0.8500,0.7000)" x="-8.77" y="0" font-size="17.53" fill="#1a1a1a" font-family='"Liberation Sans","Noto Sans CJK JP",sans-serif'>：</text>
<text x="620.13" y="1012.30" font-size="17.20" fill="#1a1a1a" textLength="44.37" lengthAdjust="spacingAndGlyphs" font-family='"DejaVu Sans","Noto Sans CJK JP",sans-serif'>-35.0</text>
<text transform="translate(62.56,1091.15) scale(1.0200,0.9200)" x="-10.56 10.15" y="0" font-size="21.13" fill="#000" font-family='"Liberation Sans","Noto Sans CJK JP",sans-serif'>資料</text>
<text transform="translate(104.82,1092.95) scale(0.8500,0.7000)" x="-10.56" y="0" font-size="21.13" fill="#000" font-family='"Liberation Sans","Noto Sans CJK JP",sans-serif'>：</text>
<text x="115.89" y="1092.00" font-size="21.13" fill="#000" textLength="35.61" lengthAdjust="spacingAndGlyphs" font-family='"DejaVu Sans","Noto Sans CJK JP",sans-serif'>IMF</text>
<text transform="translate(868.41,502.30) scale(0.8750,1.0000)" x="-10.85 9.50 29.86" y="0" font-size="21.71" font-weight="700" fill="#000" stroke="#000" stroke-width="0.25" stroke-linejoin="round" font-family='"Liberation Sans","Noto Sans CJK JP",sans-serif'>ロシア</text>
<text transform="translate(923.18,502.30) scale(0.9150,1.0000)" x="-11.02" y="0" font-size="22.04" font-weight="700" fill="#000" stroke="#000" stroke-width="0.25" stroke-linejoin="round" font-family='"Liberation Sans","Noto Sans CJK JP",sans-serif'>の</text>
<text x="933.92" y="502.30" font-size="20.00" font-weight="700" fill="#000" stroke="#000" stroke-width="0.25" textLength="41.08" lengthAdjust="spacingAndGlyphs" font-family='"DejaVu Sans","Noto Sans CJK JP",sans-serif'>PMI</text>
<line x1="725.60" y1="522.5" x2="1137.60" y2="522.5" stroke="#e8e8e8" stroke-width="1"/>
<text x="705.00" y="528.80" font-size="17.0" fill="#000" text-anchor="end" textLength="19.81" lengthAdjust="spacingAndGlyphs" font-family='"DejaVu Sans","Noto Sans CJK JP",sans-serif' >65</text>
<line x1="725.60" y1="533.5" x2="1137.60" y2="533.5" stroke="#e8e8e8" stroke-width="1"/>
<text x="705.00" y="540.15" font-size="17.0" fill="#000" text-anchor="end" textLength="19.81" lengthAdjust="spacingAndGlyphs" font-family='"DejaVu Sans","Noto Sans CJK JP",sans-serif' >60</text>
<line x1="725.60" y1="545.5" x2="1137.60" y2="545.5" stroke="#e8e8e8" stroke-width="1"/>
<text x="705.00" y="551.51" font-size="17.0" fill="#000" text-anchor="end" textLength="19.81" lengthAdjust="spacingAndGlyphs" font-family='"DejaVu Sans","Noto Sans CJK JP",sans-serif' >55</text>
<line x1="725.60" y1="556.5" x2="1137.60" y2="556.5" stroke="#e8e8e8" stroke-width="1"/>
<text x="705.00" y="562.86" font-size="17.0" fill="#000" text-anchor="end" textLength="19.81" lengthAdjust="spacingAndGlyphs" font-family='"DejaVu Sans","Noto Sans CJK JP",sans-serif' >50</text>
<line x1="725.60" y1="568.5" x2="1137.60" y2="568.5" stroke="#e8e8e8" stroke-width="1"/>
<text x="705.00" y="574.22" font-size="17.0" fill="#000" text-anchor="end" textLength="19.81" lengthAdjust="spacingAndGlyphs" font-family='"DejaVu Sans","Noto Sans CJK JP",sans-serif' >45</text>
<line x1="725.60" y1="579.5" x2="1137.60" y2="579.5" stroke="#e8e8e8" stroke-width="1"/>
<text x="705.00" y="585.57" font-size="17.0" fill="#000" text-anchor="end" textLength="19.81" lengthAdjust="spacingAndGlyphs" font-family='"DejaVu Sans","Noto Sans CJK JP",sans-serif' >40</text>
<line x1="725.60" y1="590.5" x2="1137.60" y2="590.5" stroke="#e8e8e8" stroke-width="1"/>
<text x="705.00" y="596.93" font-size="17.0" fill="#000" text-anchor="end" textLength="19.81" lengthAdjust="spacingAndGlyphs" font-family='"DejaVu Sans","Noto Sans CJK JP",sans-serif' >35</text>
<line x1="725.60" y1="602.5" x2="1137.60" y2="602.5" stroke="#e8e8e8" stroke-width="1"/>
<text x="705.00" y="608.28" font-size="17.0" fill="#000" text-anchor="end" textLength="19.81" lengthAdjust="spacingAndGlyphs" font-family='"DejaVu Sans","Noto Sans CJK JP",sans-serif' >30</text>
<line x1="725.60" y1="613.5" x2="1137.60" y2="613.5" stroke="#e8e8e8" stroke-width="1"/>
<text x="705.00" y="619.63" font-size="17.0" fill="#000" text-anchor="end" textLength="19.81" lengthAdjust="spacingAndGlyphs" font-family='"DejaVu Sans","Noto Sans CJK JP",sans-serif' >25</text>
<line x1="725.60" y1="624.5" x2="1137.60" y2="624.5" stroke="#e8e8e8" stroke-width="1"/>
<text x="705.00" y="630.99" font-size="17.0" fill="#000" text-anchor="end" textLength="19.81" lengthAdjust="spacingAndGlyphs" font-family='"DejaVu Sans","Noto Sans CJK JP",sans-serif' >20</text>
<line x1="725.60" y1="636.5" x2="1137.60" y2="636.5" stroke="#e8e8e8" stroke-width="1"/>
<text x="705.00" y="642.35" font-size="17.0" fill="#000" text-anchor="end" textLength="19.81" lengthAdjust="spacingAndGlyphs" font-family='"DejaVu Sans","Noto Sans CJK JP",sans-serif' >15</text>
<text x="705.00" y="653.70" font-size="17.0" fill="#000" text-anchor="end" textLength="19.81" lengthAdjust="spacingAndGlyphs" font-family='"DejaVu Sans","Noto Sans CJK JP",sans-serif' >10</text>
<polyline points="730.75,554.62 741.05,556.43 751.35,550.30 761.65,552.57 771.95,557.11 782.25,559.84 792.55,558.25 802.85,558.70 813.15,565.06 823.45,563.02 833.75,566.65 844.05,562.34 854.35,561.43 864.65,560.75 874.95,562.34 885.25,599.13 895.55,588.00 905.85,558.02 916.15,560.29 926.45,554.16 936.75,559.16 947.05,563.70 957.35,565.06 967.65,557.34 977.95,554.62 988.25,553.25 998.55,554.16 1008.85,555.75 1019.15,552.35 1029.45,558.48 1039.75,562.34 1050.05,564.61 1060.35,557.11 1070.65,553.03 1080.95,552.80 1091.25,553.03 1101.55,552.57 1111.85,559.84 1122.15,570.06 1132.45,560.75" fill="none" stroke="#5b9bd5" stroke-width="2.1" stroke-linejoin="round" />
<circle cx="730.75" cy="554.62" r="3.1" fill="#fff" stroke="#5b9bd5" stroke-width="1.2"/>
<circle cx="741.05" cy="556.43" r="3.1" fill="#fff" stroke="#5b9bd5" stroke-width="1.2"/>
<circle cx="751.35" cy="550.30" r="3.1" fill="#fff" stroke="#5b9bd5" stroke-width="1.2"/>
<circle cx="761.65" cy="552.57" r="3.1" fill="#fff" stroke="#5b9bd5" stroke-width="1.2"/>
<circle cx="771.95" cy="557.11" r="3.1" fill="#fff" stroke="#5b9bd5" stroke-width="1.2"/>
<circle cx="782.25" cy="559.84" r="3.1" fill="#fff" stroke="#5b9bd5" stroke-width="1.2"/>
<circle cx="792.55" cy="558.25" r="3.1" fill="#fff" stroke="#5b9bd5" stroke-width="1.2"/>
<circle cx="802.85" cy="558.70" r="3.1" fill="#fff" stroke="#5b9bd5" stroke-width="1.2"/>
<circle cx="813.15" cy="565.06" r="3.1" fill="#fff" stroke="#5b9bd5" stroke-width="1.2"/>
<circle cx="823.45" cy="563.02" r="3.1" fill="#fff" stroke="#5b9bd5" stroke-width="1.2"/>
<circle cx="833.75" cy="566.65" r="3.1" fill="#fff" stroke="#5b9bd5" stroke-width="1.2"/>
<circle cx="844.05" cy="562.34" r="3.1" fill="#fff" stroke="#5b9bd5" stroke-width="1.2"/>
<circle cx="854.35" cy="561.43" r="3.1" fill="#fff" stroke="#5b9bd5" stroke-width="1.2"/>
<circle cx="864.65" cy="560.75" r="3.1" fill="#fff" stroke="#5b9bd5" stroke-width="1.2"/>
<circle cx="874.95" cy="562.34" r="3.1" fill="#fff" stroke="#5b9bd5" stroke-width="1.2"/>
<circle cx="885.25" cy="599.13" r="3.1" fill="#fff" stroke="#5b9bd5" stroke-width="1.2"/>
<circle cx="895.55" cy="588.00" r="3.1" fill="#fff" stroke="#5b9bd5" stroke-width="1.2"/>
<circle cx="905.85" cy="558.02" r="3.1" fill="#fff" stroke="#5b9bd5" stroke-width="1.2"/>
<circle cx="916.15" cy="560.29" r="3.1" fill="#fff" stroke="#5b9bd5" stroke-width="1.2"/>
<circle cx="926.45" cy="554.16" r="3.1" fill="#fff" stroke="#5b9bd5" stroke-width="1.2"/>
<circle cx="936.75" cy="559.16" r="3.1" fill="#fff" stroke="#5b9bd5" stroke-width="1.2"/>
<circle cx="947.05" cy="563.70" r="3.1" fill="#fff" stroke="#5b9bd5" stroke-width="1.2"/>
<circle cx="957.35" cy="565.06" r="3.1" fill="#fff" stroke="#5b9bd5" stroke-width="1.2"/>
<circle cx="967.65" cy="557.34" r="3.1" fill="#fff" stroke="#5b9bd5" stroke-width="1.2"/>
<circle cx="977.95" cy="554.62" r="3.1" fill="#fff" stroke="#5b9bd5" stroke-width="1.2"/>
<circle cx="988.25" cy="553.25" r="3.1" fill="#fff" stroke="#5b9bd5" stroke-width="1.2"/>
<circle cx="998.55" cy="554.16" r="3.1" fill="#fff" stroke="#5b9bd5" stroke-width="1.2"/>
<circle cx="1008.85" cy="555.75" r="3.1" fill="#fff" stroke="#5b9bd5" stroke-width="1.2"/>
<circle cx="1019.15" cy="552.35" r="3.1" fill="#fff" stroke="#5b9bd5" stroke-width="1.2"/>
<circle cx="1029.45" cy="558.48" r="3.1" fill="#fff" stroke="#5b9bd5" stroke-width="1.2"/>
<circle cx="1039.75" cy="562.34" r="3.1" fill="#fff" stroke="#5b9bd5" stroke-width="1.2"/>
<circle cx="1050.05" cy="564.61" r="3.1" fill="#fff" stroke="#5b9bd5" stroke-width="1.2"/>
<circle cx="1060.35" cy="557.11" r="3.1" fill="#fff" stroke="#5b9bd5" stroke-width="1.2"/>
<circle cx="1070.65" cy="553.03" r="3.1" fill="#fff" stroke="#5b9bd5" stroke-width="1.2"/>
<circle cx="1080.95" cy="552.80" r="3.1" fill="#fff" stroke="#5b9bd5" stroke-width="1.2"/>
<circle cx="1091.25" cy="553.03" r="3.1" fill="#fff" stroke="#5b9bd5" stroke-width="1.2"/>
<circle cx="1101.55" cy="552.57" r="3.1" fill="#fff" stroke="#5b9bd5" stroke-width="1.2"/>
<circle cx="1111.85" cy="559.84" r="3.1" fill="#fff" stroke="#5b9bd5" stroke-width="1.2"/>
<circle cx="1122.15" cy="570.06" r="3.1" fill="#fff" stroke="#5b9bd5" stroke-width="1.2"/>
<circle cx="1132.45" cy="560.75" r="3.1" fill="#fff" stroke="#5b9bd5" stroke-width="1.2"/>
<polyline points="730.75,545.53 741.05,544.62 751.35,546.67 761.65,550.76 771.95,552.12 782.25,557.34 792.55,555.75 802.85,551.89 813.15,548.48 823.45,543.49 833.75,543.94 844.05,549.62 854.35,547.35 864.65,552.12 874.95,585.96 885.25,642.50 895.55,588.68 905.85,561.66 916.15,537.36 926.45,538.04 936.75,548.26 947.05,563.70 957.35,560.75 967.65,561.20 977.95,550.53 988.25,551.66 998.55,543.49 1008.85,544.85 1019.15,539.63 1029.45,541.90 1039.75,548.71 1050.05,558.25 1060.35,555.52 1070.65,559.39 1080.95,563.25 1091.25,557.80 1101.55,557.11 1111.85,551.89 1122.15,583.68 1132.45,569.15" fill="none" stroke="#ed7d31" stroke-width="2.1" stroke-linejoin="round" />
<circle cx="730.75" cy="545.53" r="3.1" fill="#fff" stroke="#ed7d31" stroke-width="1.2"/>
<circle cx="741.05" cy="544.62" r="3.1" fill="#fff" stroke="#ed7d31" stroke-width="1.2"/>
<circle cx="751.35" cy="546.67" r="3.1" fill="#fff" stroke="#ed7d31" stroke-width="1.2"/>
<circle cx="761.65" cy="550.76" r="3.1" fill="#fff" stroke="#ed7d31" stroke-width="1.2"/>
<circle cx="771.95" cy="552.12" r="3.1" fill="#fff" stroke="#ed7d31" stroke-width="1.2"/>
<circle cx="782.25" cy="557.34" r="3.1" fill="#fff" stroke="#ed7d31" stroke-width="1.2"/>
<circle cx="792.55" cy="555.75" r="3.1" fill="#fff" stroke="#ed7d31" stroke-width="1.2"/>
<circle cx="802.85" cy="551.89" r="3.1" fill="#fff" stroke="#ed7d31" stroke-width="1.2"/>
<circle cx="813.15" cy="548.48" r="3.1" fill="#fff" stroke="#ed7d31" stroke-width="1.2"/>
<circle cx="823.45" cy="543.49" r="3.1" fill="#fff" stroke="#ed7d31" stroke-width="1.2"/>
<circle cx="833.75" cy="543.94" r="3.1" fill="#fff" stroke="#ed7d31" stroke-width="1.2"/>
<circle cx="844.05" cy="549.62" r="3.1" fill="#fff" stroke="#ed7d31" stroke-width="1.2"/>
<circle cx="854.35" cy="547.35" r="3.1" fill="#fff" stroke="#ed7d31" stroke-width="1.2"/>
<circle cx="864.65" cy="552.12" r="3.1" fill="#fff" stroke="#ed7d31" stroke-width="1.2"/>
<circle cx="874.95" cy="585.96" r="3.1" fill="#fff" stroke="#ed7d31" stroke-width="1.2"/>
<circle cx="885.25" cy="642.50" r="3.1" fill="#fff" stroke="#ed7d31" stroke-width="1.2"/>
<circle cx="895.55" cy="588.68" r="3.1" fill="#fff" stroke="#ed7d31" stroke-width="1.2"/>
<circle cx="905.85" cy="561.66" r="3.1" fill="#fff" stroke="#ed7d31" stroke-width="1.2"/>
<circle cx="916.15" cy="537.36" r="3.1" fill="#fff" stroke="#ed7d31" stroke-width="1.2"/>
<circle cx="926.45" cy="538.04" r="3.1" fill="#fff" stroke="#ed7d31" stroke-width="1.2"/>
<circle cx="936.75" cy="548.26" r="3.1" fill="#fff" stroke="#ed7d31" stroke-width="1.2"/>
<circle cx="947.05" cy="563.70" r="3.1" fill="#fff" stroke="#ed7d31" stroke-width="1.2"/>
<circle cx="957.35" cy="560.75" r="3.1" fill="#fff" stroke="#ed7d31" stroke-width="1.2"/>
<circle cx="967.65" cy="561.20" r="3.1" fill="#fff" stroke="#ed7d31" stroke-width="1.2"/>
<circle cx="977.95" cy="550.53" r="3.1" fill="#fff" stroke="#ed7d31" stroke-width="1.2"/>
<circle cx="988.25" cy="551.66" r="3.1" fill="#fff" stroke="#ed7d31" stroke-width="1.2"/>
<circle cx="998.55" cy="543.49" r="3.1" fill="#fff" stroke="#ed7d31" stroke-width="1.2"/>
<circle cx="1008.85" cy="544.85" r="3.1" fill="#fff" stroke="#ed7d31" stroke-width="1.2"/>
<circle cx="1019.15" cy="539.63" r="3.1" fill="#fff" stroke="#ed7d31" stroke-width="1.2"/>
<circle cx="1029.45" cy="541.90" r="3.1" fill="#fff" stroke="#ed7d31" stroke-width="1.2"/>
<circle cx="1039.75" cy="548.71" r="3.1" fill="#fff" stroke="#ed7d31" stroke-width="1.2"/>
<circle cx="1050.05" cy="558.25" r="3.1" fill="#fff" stroke="#ed7d31" stroke-width="1.2"/>
<circle cx="1060.35" cy="555.52" r="3.1" fill="#fff" stroke="#ed7d31" stroke-width="1.2"/>
<circle cx="1070.65" cy="559.39" r="3.1" fill="#fff" stroke="#ed7d31" stroke-width="1.2"/>
<circle cx="1080.95" cy="563.25" r="3.1" fill="#fff" stroke="#ed7d31" stroke-width="1.2"/>
<circle cx="1091.25" cy="557.80" r="3.1" fill="#fff" stroke="#ed7d31" stroke-width="1.2"/>
<circle cx="1101.55" cy="557.11" r="3.1" fill="#fff" stroke="#ed7d31" stroke-width="1.2"/>
<circle cx="1111.85" cy="551.89" r="3.1" fill="#fff" stroke="#ed7d31" stroke-width="1.2"/>
<circle cx="1122.15" cy="583.68" r="3.1" fill="#fff" stroke="#ed7d31" stroke-width="1.2"/>
<circle cx="1132.45" cy="569.15" r="3.1" fill="#fff" stroke="#ed7d31" stroke-width="1.2"/>
<line x1="730.75" y1="556.66" x2="1132.95" y2="556.66" stroke="#000" stroke-width="2.0" stroke-dasharray="7.2 6.4" stroke-dashoffset="12"/>
<line x1="725.50" y1="522.60" x2="725.50" y2="710.80" stroke="#000" stroke-width="1" />
<line x1="725.10" y1="647.50" x2="1138.10" y2="647.50" stroke="#000" stroke-width="1" />
<text transform="translate(736.83,659.00) rotate(-90)" text-anchor="end" font-size="15" textLength="8.60" lengthAdjust="spacingAndGlyphs" font-family='"DejaVu Sans","Noto Sans CJK JP",sans-serif'>1</text>
<text transform="translate(747.13,659.00) rotate(-90)" text-anchor="end" font-size="15" textLength="8.60" lengthAdjust="spacingAndGlyphs" font-family='"DejaVu Sans","Noto Sans CJK JP",sans-serif'>2</text>
<text transform="translate(757.43,659.00) rotate(-90)" text-anchor="end" font-size="15" textLength="8.60" lengthAdjust="spacingAndGlyphs" font-family='"DejaVu Sans","Noto Sans CJK JP",sans-serif'>3</text>
<text transform="translate(767.73,659.00) rotate(-90)" text-anchor="end" font-size="15" textLength="8.60" lengthAdjust="spacingAndGlyphs" font-family='"DejaVu Sans","Noto Sans CJK JP",sans-serif'>4</text>
<text transform="translate(778.03,659.00) rotate(-90)" text-anchor="end" font-size="15" textLength="8.60" lengthAdjust="spacingAndGlyphs" font-family='"DejaVu Sans","Noto Sans CJK JP",sans-serif'>5</text>
<text transform="translate(788.33,659.00) rotate(-90)" text-anchor="end" font-size="15" textLength="8.60" lengthAdjust="spacingAndGlyphs" font-family='"DejaVu Sans","Noto Sans CJK JP",sans-serif'>6</text>
<text transform="translate(798.63,659.00) rotate(-90)" text-anchor="end" font-size="15" textLength="8.60" lengthAdjust="spacingAndGlyphs" font-family='"DejaVu Sans","Noto Sans CJK JP",sans-serif'>7</text>
<text transform="translate(808.93,659.00) rotate(-90)" text-anchor="end" font-size="15" textLength="8.60" lengthAdjust="spacingAndGlyphs" font-family='"DejaVu Sans","Noto Sans CJK JP",sans-serif'>8</text>
<text transform="translate(819.23,659.00) rotate(-90)" text-anchor="end" font-size="15" textLength="8.60" lengthAdjust="spacingAndGlyphs" font-family='"DejaVu Sans","Noto Sans CJK JP",sans-serif'>9</text>
<text transform="translate(829.53,659.00) rotate(-90)" text-anchor="end" font-size="15" textLength="17.21" lengthAdjust="spacingAndGlyphs" font-family='"DejaVu Sans","Noto Sans CJK JP",sans-serif'>10</text>
<text transform="translate(839.83,659.00) rotate(-90)" text-anchor="end" font-size="15" textLength="17.21" lengthAdjust="spacingAndGlyphs" font-family='"DejaVu Sans","Noto Sans CJK JP",sans-serif'>11</text>
<text transform="translate(850.13,659.00) rotate(-90)" text-anchor="end" font-size="15" textLength="17.21" lengthAdjust="spacingAndGlyphs" font-family='"DejaVu Sans","Noto Sans CJK JP",sans-serif'>12</text>
<text transform="translate(860.43,659.00) rotate(-90)" text-anchor="end" font-size="15" textLength="8.60" lengthAdjust="spacingAndGlyphs" font-family='"DejaVu Sans","Noto Sans CJK JP",sans-serif'>1</text>
<text transform="translate(870.73,659.00) rotate(-90)" text-anchor="end" font-size="15" textLength="8.60" lengthAdjust="spacingAndGlyphs" font-family='"DejaVu Sans","Noto Sans CJK JP",sans-serif'>2</text>
<text transform="translate(881.03,659.00) rotate(-90)" text-anchor="end" font-size="15" textLength="8.60" lengthAdjust="spacingAndGlyphs" font-family='"DejaVu Sans","Noto Sans CJK JP",sans-serif'>3</text>
<text transform="translate(891.33,659.00) rotate(-90)" text-anchor="end" font-size="15" textLength="8.60" lengthAdjust="spacingAndGlyphs" font-family='"DejaVu Sans","Noto Sans CJK JP",sans-serif'>4</text>
<text transform="translate(901.63,659.00) rotate(-90)" text-anchor="end" font-size="15" textLength="8.60" lengthAdjust="spacingAndGlyphs" font-family='"DejaVu Sans","Noto Sans CJK JP",sans-serif'>5</text>
<text transform="translate(911.93,659.00) rotate(-90)" text-anchor="end" font-size="15" textLength="8.60" lengthAdjust="spacingAndGlyphs" font-family='"DejaVu Sans","Noto Sans CJK JP",sans-serif'>6</text>
<text transform="translate(922.23,659.00) rotate(-90)" text-anchor="end" font-size="15" textLength="8.60" lengthAdjust="spacingAndGlyphs" font-family='"DejaVu Sans","Noto Sans CJK JP",sans-serif'>7</text>
<text transform="translate(932.53,659.00) rotate(-90)" text-anchor="end" font-size="15" textLength="8.60" lengthAdjust="spacingAndGlyphs" font-family='"DejaVu Sans","Noto Sans CJK JP",sans-serif'>8</text>
<text transform="translate(942.83,659.00) rotate(-90)" text-anchor="end" font-size="15" textLength="8.60" lengthAdjust="spacingAndGlyphs" font-family='"DejaVu Sans","Noto Sans CJK JP",sans-serif'>9</text>
<text transform="translate(953.13,659.00) rotate(-90)" text-anchor="end" font-size="15" textLength="17.21" lengthAdjust="spacingAndGlyphs" font-family='"DejaVu Sans","Noto Sans CJK JP",sans-serif'>10</text>
<text transform="translate(963.43,659.00) rotate(-90)" text-anchor="end" font-size="15" textLength="17.21" lengthAdjust="spacingAndGlyphs" font-family='"DejaVu Sans","Noto Sans CJK JP",sans-serif'>11</text>
<text transform="translate(973.73,659.00) rotate(-90)" text-anchor="end" font-size="15" textLength="17.21" lengthAdjust="spacingAndGlyphs" font-family='"DejaVu Sans","Noto Sans CJK JP",sans-serif'>12</text>
<text transform="translate(984.03,659.00) rotate(-90)" text-anchor="end" font-size="15" textLength="8.60" lengthAdjust="spacingAndGlyphs" font-family='"DejaVu Sans","Noto Sans CJK JP",sans-serif'>1</text>
<text transform="translate(994.33,659.00) rotate(-90)" text-anchor="end" font-size="15" textLength="8.60" lengthAdjust="spacingAndGlyphs" font-family='"DejaVu Sans","Noto Sans CJK JP",sans-serif'>2</text>
<text transform="translate(1004.63,659.00) rotate(-90)" text-anchor="end" font-size="15" textLength="8.60" lengthAdjust="spacingAndGlyphs" font-family='"DejaVu Sans","Noto Sans CJK JP",sans-serif'>3</text>
<text transform="translate(1014.93,659.00) rotate(-90)" text-anchor="end" font-size="15" textLength="8.60" lengthAdjust="spacingAndGlyphs" font-family='"DejaVu Sans","Noto Sans CJK JP",sans-serif'>4</text>
<text transform="translate(1025.23,659.00) rotate(-90)" text-anchor="end" font-size="15" textLength="8.60" lengthAdjust="spacingAndGlyphs" font-family='"DejaVu Sans","Noto Sans CJK JP",sans-serif'>5</text>
<text transform="translate(1035.52,659.00) rotate(-90)" text-anchor="end" font-size="15" textLength="8.60" lengthAdjust="spacingAndGlyphs" font-family='"DejaVu Sans","Noto Sans CJK JP",sans-serif'>6</text>
<text transform="translate(1045.82,659.00) rotate(-90)" text-anchor="end" font-size="15" textLength="8.60" lengthAdjust="spacingAndGlyphs" font-family='"DejaVu Sans","Noto Sans CJK JP",sans-serif'>7</text>
<text transform="translate(1056.12,659.00) rotate(-90)" text-anchor="end" font-size="15" textLength="8.60" lengthAdjust="spacingAndGlyphs" font-family='"DejaVu Sans","Noto Sans CJK JP",sans-serif'>8</text>
<text transform="translate(1066.42,659.00) rotate(-90)" text-anchor="end" font-size="15" textLength="8.60" lengthAdjust="spacingAndGlyphs" font-family='"DejaVu Sans","Noto Sans CJK JP",sans-serif'>9</text>
<text transform="translate(1076.72,659.00) rotate(-90)" text-anchor="end" font-size="15" textLength="17.21" lengthAdjust="spacingAndGlyphs" font-family='"DejaVu Sans","Noto Sans CJK JP",sans-serif'>10</text>
<text transform="translate(1087.02,659.00) rotate(-90)" text-anchor="end" font-size="15" textLength="17.21" lengthAdjust="spacingAndGlyphs" font-family='"DejaVu Sans","Noto Sans CJK JP",sans-serif'>11</text>
<text transform="translate(1097.32,659.00) rotate(-90)" text-anchor="end" font-size="15" textLength="17.21" lengthAdjust="spacingAndGlyphs" font-family='"DejaVu Sans","Noto Sans CJK JP",sans-serif'>12</text>
<text transform="translate(1107.62,659.00) rotate(-90)" text-anchor="end" font-size="15" textLength="8.60" lengthAdjust="spacingAndGlyphs" font-family='"DejaVu Sans","Noto Sans CJK JP",sans-serif'>1</text>
<text transform="translate(1117.92,659.00) rotate(-90)" text-anchor="end" font-size="15" textLength="8.60" lengthAdjust="spacingAndGlyphs" font-family='"DejaVu Sans","Noto Sans CJK JP",sans-serif'>2</text>
<text transform="translate(1128.22,659.00) rotate(-90)" text-anchor="end" font-size="15" textLength="8.60" lengthAdjust="spacingAndGlyphs" font-family='"DejaVu Sans","Noto Sans CJK JP",sans-serif'>3</text>
<text transform="translate(1138.52,659.00) rotate(-90)" text-anchor="end" font-size="15" textLength="8.60" lengthAdjust="spacingAndGlyphs" font-family='"DejaVu Sans","Noto Sans CJK JP",sans-serif'>4</text>
<line x1="849.50" y1="647.50" x2="849.50" y2="710.80" stroke="#000" stroke-width="1" />
<line x1="972.50" y1="647.50" x2="972.50" y2="710.80" stroke="#000" stroke-width="1" />
<line x1="1096.50" y1="647.50" x2="1096.50" y2="710.80" stroke="#000" stroke-width="1" />
<line x1="1137.50" y1="647.50" x2="1137.50" y2="710.80" stroke="#000" stroke-width="1" />
<text x="787.40" y="705.80" font-size="14.9" fill="#000" text-anchor="middle" textLength="38.61" lengthAdjust="spacingAndGlyphs" font-family='"DejaVu Sans","Noto Sans CJK JP",sans-serif' >2019</text>
<text x="911.00" y="705.80" font-size="14.9" fill="#000" text-anchor="middle" textLength="38.61" lengthAdjust="spacingAndGlyphs" font-family='"DejaVu Sans","Noto Sans CJK JP",sans-serif' >2020</text>
<text x="1034.60" y="705.80" font-size="14.9" fill="#000" text-anchor="middle" textLength="38.61" lengthAdjust="spacingAndGlyphs" font-family='"DejaVu Sans","Noto Sans CJK JP",sans-serif' >2021</text>
<text x="1117.00" y="705.80" font-size="14.9" fill="#000" text-anchor="middle" textLength="38.61" lengthAdjust="spacingAndGlyphs" font-family='"DejaVu Sans","Noto Sans CJK JP",sans-serif' >2022</text>
<rect x="724.50" y="719.50" width="349.00" height="26.00" fill="#fff" stroke="#1a1a1a" stroke-width="1.3" />
<line x1="765.70" y1="732.30" x2="789.30" y2="732.30" stroke="#5b9bd5" stroke-width="2" />
<circle cx="777.50" cy="732.30" r="3.0" fill="#fff" stroke="#5b9bd5" stroke-width="1.2"/>
<text transform="translate(798.26,737.80) scale(0.8750,1.0000)" x="-7.62 6.68 20.98" y="0" font-size="15.25" fill="#000" font-family='"Liberation Sans","Noto Sans CJK JP",sans-serif'>ロシア</text>
<text transform="translate(837.36,737.17) scale(1.0200,0.9200)" x="-7.82 7.51 22.85" y="0" font-size="15.64" fill="#000" font-family='"Liberation Sans","Noto Sans CJK JP",sans-serif'>製造業</text>
<text x="876.96" y="737.80" font-size="15.50" fill="#000" textLength="26.54" lengthAdjust="spacingAndGlyphs" font-family='"DejaVu Sans","Noto Sans CJK JP",sans-serif'>PMI</text>
<line x1="944.40" y1="732.30" x2="968.00" y2="732.30" stroke="#ed7d31" stroke-width="2" />
<circle cx="956.20" cy="732.30" r="3.0" fill="#fff" stroke="#ed7d31" stroke-width="1.2"/>
<text transform="translate(978.19,737.80) scale(0.8750,1.0000)" x="-7.54 6.61 20.75 34.90" y="0" font-size="15.09" fill="#000" font-family='"Liberation Sans","Noto Sans CJK JP",sans-serif'>サービス</text>
<text transform="translate(1029.26,737.18) scale(1.0200,0.9200)" x="-7.74" y="0" font-size="15.48" fill="#000" font-family='"Liberation Sans","Noto Sans CJK JP",sans-serif'>業</text>
<text transform="translate(1322.14,503.80) scale(0.8750,1.0000)" x="-9.91 8.68 27.27" y="0" font-size="19.83" font-weight="700" fill="#000" stroke="#000" stroke-width="0.25" stroke-linejoin="round" font-family='"Liberation Sans","Noto Sans CJK JP",sans-serif'>ロシア</text>
<text transform="translate(1372.98,502.99) scale(1.0200,0.9200)" x="-10.17 9.77 29.71 49.65 69.59" y="0" font-size="20.34" font-weight="700" fill="#000" stroke="#000" stroke-width="0.25" stroke-linejoin="round" font-family='"Liberation Sans","Noto Sans CJK JP",sans-serif'>鉱工業生産</text>
<text transform="translate(1177.99,523.20) scale(1.0000,1.0000)" x="-7.89" y="0" font-size="15.79" fill="#000" font-family='"Liberation Sans","Noto Sans CJK JP",sans-serif'>（</text>
<text transform="translate(1193.78,522.57) scale(1.0200,0.9200)" x="-7.89 7.58 23.06 38.54 54.02" y="0" font-size="15.79" fill="#000" font-family='"Liberation Sans","Noto Sans CJK JP",sans-serif'>前年同月比</text>
<text transform="translate(1272.72,523.91) scale(0.8500,0.7000)" x="-7.89" y="0" font-size="15.79" fill="#000" font-family='"Liberation Sans","Noto Sans CJK JP",sans-serif'>：</text>
<text x="1281.11" y="523.20" font-size="15.79" fill="#000" textLength="14.00" lengthAdjust="spacingAndGlyphs" font-family='"DejaVu Sans","Noto Sans CJK JP",sans-serif'>%</text>
<text transform="translate(1303.51,523.20) scale(1.0000,1.0000)" x="-7.89" y="0" font-size="15.79" fill="#000" font-family='"Liberation Sans","Noto Sans CJK JP",sans-serif'>）</text>
<line x1="1211.60" y1="545.5" x2="1608.62" y2="545.5" stroke="#e8e8e8" stroke-width="1"/>
<text x="1192.00" y="549.60" font-size="14.4" fill="#000" text-anchor="end" textLength="19.81" lengthAdjust="spacingAndGlyphs" font-family='"DejaVu Sans","Noto Sans CJK JP",sans-serif' >20</text>
<line x1="1211.60" y1="558.5" x2="1608.62" y2="558.5" stroke="#e8e8e8" stroke-width="1"/>
<text x="1192.00" y="563.20" font-size="14.4" fill="#000" text-anchor="end" textLength="19.81" lengthAdjust="spacingAndGlyphs" font-family='"DejaVu Sans","Noto Sans CJK JP",sans-serif' >15</text>
<line x1="1211.60" y1="572.5" x2="1608.62" y2="572.5" stroke="#e8e8e8" stroke-width="1"/>
<text x="1192.00" y="576.80" font-size="14.4" fill="#000" text-anchor="end" textLength="19.81" lengthAdjust="spacingAndGlyphs" font-family='"DejaVu Sans","Noto Sans CJK JP",sans-serif' >10</text>
<line x1="1211.60" y1="586.5" x2="1608.62" y2="586.5" stroke="#e8e8e8" stroke-width="1"/>
<text x="1192.00" y="590.40" font-size="14.4" fill="#000" text-anchor="end" textLength="9.90" lengthAdjust="spacingAndGlyphs" font-family='"DejaVu Sans","Noto Sans CJK JP",sans-serif' >5</text>
<text x="1192.00" y="604.00" font-size="14.4" fill="#000" text-anchor="end" textLength="9.90" lengthAdjust="spacingAndGlyphs" font-family='"DejaVu Sans","Noto Sans CJK JP",sans-serif' >0</text>
<line x1="1211.60" y1="613.5" x2="1608.62" y2="613.5" stroke="#e8e8e8" stroke-width="1"/>
<text x="1192.00" y="617.60" font-size="14.4" fill="#000" text-anchor="end" textLength="15.52" lengthAdjust="spacingAndGlyphs" font-family='"DejaVu Sans","Noto Sans CJK JP",sans-serif' >-5</text>
<line x1="1211.60" y1="626.5" x2="1608.62" y2="626.5" stroke="#e8e8e8" stroke-width="1"/>
<text x="1192.00" y="631.20" font-size="14.4" fill="#000" text-anchor="end" textLength="25.42" lengthAdjust="spacingAndGlyphs" font-family='"DejaVu Sans","Noto Sans CJK JP",sans-serif' >-10</text>
<line x1="1211.60" y1="640.5" x2="1608.62" y2="640.5" stroke="#e8e8e8" stroke-width="1"/>
<text x="1192.00" y="644.80" font-size="14.4" fill="#000" text-anchor="end" textLength="25.42" lengthAdjust="spacingAndGlyphs" font-family='"DejaVu Sans","Noto Sans CJK JP",sans-serif' >-15</text>
<line x1="1211.60" y1="654.5" x2="1608.62" y2="654.5" stroke="#e8e8e8" stroke-width="1"/>
<text x="1192.00" y="658.40" font-size="14.4" fill="#000" text-anchor="end" textLength="25.42" lengthAdjust="spacingAndGlyphs" font-family='"DejaVu Sans","Noto Sans CJK JP",sans-serif' >-20</text>
<line x1="1211.60" y1="599.70" x2="1608.62" y2="599.70" stroke="#4a4a4a" stroke-width="1.6" />
<polyline points="1216.69,601.60 1226.87,591.00 1237.05,596.44 1247.23,585.28 1257.41,603.78 1267.59,590.45 1277.77,584.74 1287.95,586.10 1298.13,580.12 1308.31,578.76 1318.49,594.80 1328.67,587.73 1338.85,588.55 1349.03,578.48 1359.21,582.56 1369.39,620.37 1379.57,612.76 1389.75,605.68 1399.93,599.43 1410.11,597.52 1420.29,598.88 1430.47,610.04 1440.65,590.45 1450.83,573.86 1461.01,601.60 1471.19,606.23 1481.37,587.73 1491.55,561.62 1501.73,568.42 1511.91,580.12 1522.09,591.00 1532.27,593.17 1542.45,586.37 1552.63,585.28 1562.81,583.65 1572.99,588.55 1583.17,572.50 1593.35,581.20 1603.53,600.79" fill="none" stroke="#5b9bd5" stroke-width="2.0" stroke-linejoin="round" />
<circle cx="1216.69" cy="601.60" r="2.7" fill="#fff" stroke="#5b9bd5" stroke-width="1.1"/>
<circle cx="1226.87" cy="591.00" r="2.7" fill="#fff" stroke="#5b9bd5" stroke-width="1.1"/>
<circle cx="1237.05" cy="596.44" r="2.7" fill="#fff" stroke="#5b9bd5" stroke-width="1.1"/>
<circle cx="1247.23" cy="585.28" r="2.7" fill="#fff" stroke="#5b9bd5" stroke-width="1.1"/>
<circle cx="1257.41" cy="603.78" r="2.7" fill="#fff" stroke="#5b9bd5" stroke-width="1.1"/>
<circle cx="1267.59" cy="590.45" r="2.7" fill="#fff" stroke="#5b9bd5" stroke-width="1.1"/>
<circle cx="1277.77" cy="584.74" r="2.7" fill="#fff" stroke="#5b9bd5" stroke-width="1.1"/>
<circle cx="1287.95" cy="586.10" r="2.7" fill="#fff" stroke="#5b9bd5" stroke-width="1.1"/>
<circle cx="1298.13" cy="580.12" r="2.7" fill="#fff" stroke="#5b9bd5" stroke-width="1.1"/>
<circle cx="1308.31" cy="578.76" r="2.7" fill="#fff" stroke="#5b9bd5" stroke-width="1.1"/>
<circle cx="1318.49" cy="594.80" r="2.7" fill="#fff" stroke="#5b9bd5" stroke-width="1.1"/>
<circle cx="1328.67" cy="587.73" r="2.7" fill="#fff" stroke="#5b9bd5" stroke-width="1.1"/>
<circle cx="1338.85" cy="588.55" r="2.7" fill="#fff" stroke="#5b9bd5" stroke-width="1.1"/>
<circle cx="1349.03" cy="578.48" r="2.7" fill="#fff" stroke="#5b9bd5" stroke-width="1.1"/>
<circle cx="1359.21" cy="582.56" r="2.7" fill="#fff" stroke="#5b9bd5" stroke-width="1.1"/>
<circle cx="1369.39" cy="620.37" r="2.7" fill="#fff" stroke="#5b9bd5" stroke-width="1.1"/>
<circle cx="1379.57" cy="612.76" r="2.7" fill="#fff" stroke="#5b9bd5" stroke-width="1.1"/>
<circle cx="1389.75" cy="605.68" r="2.7" fill="#fff" stroke="#5b9bd5" stroke-width="1.1"/>
<circle cx="1399.93" cy="599.43" r="2.7" fill="#fff" stroke="#5b9bd5" stroke-width="1.1"/>
<circle cx="1410.11" cy="597.52" r="2.7" fill="#fff" stroke="#5b9bd5" stroke-width="1.1"/>
<circle cx="1420.29" cy="598.88" r="2.7" fill="#fff" stroke="#5b9bd5" stroke-width="1.1"/>
<circle cx="1430.47" cy="610.04" r="2.7" fill="#fff" stroke="#5b9bd5" stroke-width="1.1"/>
<circle cx="1440.65" cy="590.45" r="2.7" fill="#fff" stroke="#5b9bd5" stroke-width="1.1"/>
<circle cx="1450.83" cy="573.86" r="2.7" fill="#fff" stroke="#5b9bd5" stroke-width="1.1"/>
<circle cx="1461.01" cy="601.60" r="2.7" fill="#fff" stroke="#5b9bd5" stroke-width="1.1"/>
<circle cx="1471.19" cy="606.23" r="2.7" fill="#fff" stroke="#5b9bd5" stroke-width="1.1"/>
<circle cx="1481.37" cy="587.73" r="2.7" fill="#fff" stroke="#5b9bd5" stroke-width="1.1"/>
<circle cx="1491.55" cy="561.62" r="2.7" fill="#fff" stroke="#5b9bd5" stroke-width="1.1"/>
<circle cx="1501.73" cy="568.42" r="2.7" fill="#fff" stroke="#5b9bd5" stroke-width="1.1"/>
<circle cx="1511.91" cy="580.12" r="2.7" fill="#fff" stroke="#5b9bd5" stroke-width="1.1"/>
<circle cx="1522.09" cy="591.00" r="2.7" fill="#fff" stroke="#5b9bd5" stroke-width="1.1"/>
<circle cx="1532.27" cy="593.17" r="2.7" fill="#fff" stroke="#5b9bd5" stroke-width="1.1"/>
<circle cx="1542.45" cy="586.37" r="2.7" fill="#fff" stroke="#5b9bd5" stroke-width="1.1"/>
<circle cx="1552.63" cy="585.28" r="2.7" fill="#fff" stroke="#5b9bd5" stroke-width="1.1"/>
<circle cx="1562.81" cy="583.65" r="2.7" fill="#fff" stroke="#5b9bd5" stroke-width="1.1"/>
<circle cx="1572.99" cy="588.55" r="2.7" fill="#fff" stroke="#5b9bd5" stroke-width="1.1"/>
<circle cx="1583.17" cy="572.50" r="2.7" fill="#fff" stroke="#5b9bd5" stroke-width="1.1"/>
<circle cx="1593.35" cy="581.20" r="2.7" fill="#fff" stroke="#5b9bd5" stroke-width="1.1"/>
<circle cx="1603.53" cy="600.79" r="2.7" fill="#fff" stroke="#5b9bd5" stroke-width="1.1"/>
<polyline points="1216.69,583.65 1226.87,582.84 1237.05,584.20 1247.23,584.20 1257.41,589.64 1267.59,591.54 1277.77,591.81 1287.95,591.81 1298.13,593.44 1308.31,599.43 1318.49,597.52 1328.67,595.62 1338.85,598.61 1349.03,590.72 1359.21,600.52 1369.39,602.42 1379.57,633.70 1389.75,635.06 1399.93,638.05 1410.11,628.80 1420.29,625.00 1430.47,623.64 1440.65,619.56 1450.83,616.56 1461.01,619.83 1471.19,624.72 1481.37,612.48 1491.55,605.14 1501.73,567.33 1511.91,562.98 1522.09,567.60 1532.27,582.56 1542.45,576.04 1552.63,570.60 1562.81,570.60 1572.99,572.77 1583.17,575.49 1593.35,576.58 1603.53,578.76" fill="none" stroke="#ed7d31" stroke-width="2.0" stroke-linejoin="round" />
<circle cx="1216.69" cy="583.65" r="2.7" fill="#fff" stroke="#ed7d31" stroke-width="1.1"/>
<circle cx="1226.87" cy="582.84" r="2.7" fill="#fff" stroke="#ed7d31" stroke-width="1.1"/>
<circle cx="1237.05" cy="584.20" r="2.7" fill="#fff" stroke="#ed7d31" stroke-width="1.1"/>
<circle cx="1247.23" cy="584.20" r="2.7" fill="#fff" stroke="#ed7d31" stroke-width="1.1"/>
<circle cx="1257.41" cy="589.64" r="2.7" fill="#fff" stroke="#ed7d31" stroke-width="1.1"/>
<circle cx="1267.59" cy="591.54" r="2.7" fill="#fff" stroke="#ed7d31" stroke-width="1.1"/>
<circle cx="1277.77" cy="591.81" r="2.7" fill="#fff" stroke="#ed7d31" stroke-width="1.1"/>
<circle cx="1287.95" cy="591.81" r="2.7" fill="#fff" stroke="#ed7d31" stroke-width="1.1"/>
<circle cx="1298.13" cy="593.44" r="2.7" fill="#fff" stroke="#ed7d31" stroke-width="1.1"/>
<circle cx="1308.31" cy="599.43" r="2.7" fill="#fff" stroke="#ed7d31" stroke-width="1.1"/>
<circle cx="1318.49" cy="597.52" r="2.7" fill="#fff" stroke="#ed7d31" stroke-width="1.1"/>
<circle cx="1328.67" cy="595.62" r="2.7" fill="#fff" stroke="#ed7d31" stroke-width="1.1"/>
<circle cx="1338.85" cy="598.61" r="2.7" fill="#fff" stroke="#ed7d31" stroke-width="1.1"/>
<circle cx="1349.03" cy="590.72" r="2.7" fill="#fff" stroke="#ed7d31" stroke-width="1.1"/>
<circle cx="1359.21" cy="600.52" r="2.7" fill="#fff" stroke="#ed7d31" stroke-width="1.1"/>
<circle cx="1369.39" cy="602.42" r="2.7" fill="#fff" stroke="#ed7d31" stroke-width="1.1"/>
<circle cx="1379.57" cy="633.70" r="2.7" fill="#fff" stroke="#ed7d31" stroke-width="1.1"/>
<circle cx="1389.75" cy="635.06" r="2.7" fill="#fff" stroke="#ed7d31" stroke-width="1.1"/>
<circle cx="1399.93" cy="638.05" r="2.7" fill="#fff" stroke="#ed7d31" stroke-width="1.1"/>
<circle cx="1410.11" cy="628.80" r="2.7" fill="#fff" stroke="#ed7d31" stroke-width="1.1"/>
<circle cx="1420.29" cy="625.00" r="2.7" fill="#fff" stroke="#ed7d31" stroke-width="1.1"/>
<circle cx="1430.47" cy="623.64" r="2.7" fill="#fff" stroke="#ed7d31" stroke-width="1.1"/>
<circle cx="1440.65" cy="619.56" r="2.7" fill="#fff" stroke="#ed7d31" stroke-width="1.1"/>
<circle cx="1450.83" cy="616.56" r="2.7" fill="#fff" stroke="#ed7d31" stroke-width="1.1"/>
<circle cx="1461.01" cy="619.83" r="2.7" fill="#fff" stroke="#ed7d31" stroke-width="1.1"/>
<circle cx="1471.19" cy="624.72" r="2.7" fill="#fff" stroke="#ed7d31" stroke-width="1.1"/>
<circle cx="1481.37" cy="612.48" r="2.7" fill="#fff" stroke="#ed7d31" stroke-width="1.1"/>
<circle cx="1491.55" cy="605.14" r="2.7" fill="#fff" stroke="#ed7d31" stroke-width="1.1"/>
<circle cx="1501.73" cy="567.33" r="2.7" fill="#fff" stroke="#ed7d31" stroke-width="1.1"/>
<circle cx="1511.91" cy="562.98" r="2.7" fill="#fff" stroke="#ed7d31" stroke-width="1.1"/>
<circle cx="1522.09" cy="567.60" r="2.7" fill="#fff" stroke="#ed7d31" stroke-width="1.1"/>
<circle cx="1532.27" cy="582.56" r="2.7" fill="#fff" stroke="#ed7d31" stroke-width="1.1"/>
<circle cx="1542.45" cy="576.04" r="2.7" fill="#fff" stroke="#ed7d31" stroke-width="1.1"/>
<circle cx="1552.63" cy="570.60" r="2.7" fill="#fff" stroke="#ed7d31" stroke-width="1.1"/>
<circle cx="1562.81" cy="570.60" r="2.7" fill="#fff" stroke="#ed7d31" stroke-width="1.1"/>
<circle cx="1572.99" cy="572.77" r="2.7" fill="#fff" stroke="#ed7d31" stroke-width="1.1"/>
<circle cx="1583.17" cy="575.49" r="2.7" fill="#fff" stroke="#ed7d31" stroke-width="1.1"/>
<circle cx="1593.35" cy="576.58" r="2.7" fill="#fff" stroke="#ed7d31" stroke-width="1.1"/>
<circle cx="1603.53" cy="578.76" r="2.7" fill="#fff" stroke="#ed7d31" stroke-width="1.1"/>
<line x1="1211.50" y1="545.30" x2="1211.50" y2="714.70" stroke="#000" stroke-width="1" />
<text transform="translate(1222.76,665.00) rotate(-90)" text-anchor="end" font-size="15" textLength="8.60" lengthAdjust="spacingAndGlyphs" font-family='"DejaVu Sans","Noto Sans CJK JP",sans-serif'>1</text>
<text transform="translate(1232.94,665.00) rotate(-90)" text-anchor="end" font-size="15" textLength="8.60" lengthAdjust="spacingAndGlyphs" font-family='"DejaVu Sans","Noto Sans CJK JP",sans-serif'>2</text>
<text transform="translate(1243.12,665.00) rotate(-90)" text-anchor="end" font-size="15" textLength="8.60" lengthAdjust="spacingAndGlyphs" font-family='"DejaVu Sans","Noto Sans CJK JP",sans-serif'>3</text>
<text transform="translate(1253.30,665.00) rotate(-90)" text-anchor="end" font-size="15" textLength="8.60" lengthAdjust="spacingAndGlyphs" font-family='"DejaVu Sans","Noto Sans CJK JP",sans-serif'>4</text>
<text transform="translate(1263.48,665.00) rotate(-90)" text-anchor="end" font-size="15" textLength="8.60" lengthAdjust="spacingAndGlyphs" font-family='"DejaVu Sans","Noto Sans CJK JP",sans-serif'>5</text>
<text transform="translate(1273.66,665.00) rotate(-90)" text-anchor="end" font-size="15" textLength="8.60" lengthAdjust="spacingAndGlyphs" font-family='"DejaVu Sans","Noto Sans CJK JP",sans-serif'>6</text>
<text transform="translate(1283.84,665.00) rotate(-90)" text-anchor="end" font-size="15" textLength="8.60" lengthAdjust="spacingAndGlyphs" font-family='"DejaVu Sans","Noto Sans CJK JP",sans-serif'>7</text>
<text transform="translate(1294.02,665.00) rotate(-90)" text-anchor="end" font-size="15" textLength="8.60" lengthAdjust="spacingAndGlyphs" font-family='"DejaVu Sans","Noto Sans CJK JP",sans-serif'>8</text>
<text transform="translate(1304.20,665.00) rotate(-90)" text-anchor="end" font-size="15" textLength="8.60" lengthAdjust="spacingAndGlyphs" font-family='"DejaVu Sans","Noto Sans CJK JP",sans-serif'>9</text>
<text transform="translate(1314.38,665.00) rotate(-90)" text-anchor="end" font-size="15" textLength="17.21" lengthAdjust="spacingAndGlyphs" font-family='"DejaVu Sans","Noto Sans CJK JP",sans-serif'>10</text>
<text transform="translate(1324.56,665.00) rotate(-90)" text-anchor="end" font-size="15" textLength="17.21" lengthAdjust="spacingAndGlyphs" font-family='"DejaVu Sans","Noto Sans CJK JP",sans-serif'>11</text>
<text transform="translate(1334.74,665.00) rotate(-90)" text-anchor="end" font-size="15" textLength="17.21" lengthAdjust="spacingAndGlyphs" font-family='"DejaVu Sans","Noto Sans CJK JP",sans-serif'>12</text>
<text transform="translate(1344.92,665.00) rotate(-90)" text-anchor="end" font-size="15" textLength="8.60" lengthAdjust="spacingAndGlyphs" font-family='"DejaVu Sans","Noto Sans CJK JP",sans-serif'>1</text>
<text transform="translate(1355.10,665.00) rotate(-90)" text-anchor="end" font-size="15" textLength="8.60" lengthAdjust="spacingAndGlyphs" font-family='"DejaVu Sans","Noto Sans CJK JP",sans-serif'>2</text>
<text transform="translate(1365.28,665.00) rotate(-90)" text-anchor="end" font-size="15" textLength="8.60" lengthAdjust="spacingAndGlyphs" font-family='"DejaVu Sans","Noto Sans CJK JP",sans-serif'>3</text>
<text transform="translate(1375.46,665.00) rotate(-90)" text-anchor="end" font-size="15" textLength="8.60" lengthAdjust="spacingAndGlyphs" font-family='"DejaVu Sans","Noto Sans CJK JP",sans-serif'>4</text>
<text transform="translate(1385.64,665.00) rotate(-90)" text-anchor="end" font-size="15" textLength="8.60" lengthAdjust="spacingAndGlyphs" font-family='"DejaVu Sans","Noto Sans CJK JP",sans-serif'>5</text>
<text transform="translate(1395.82,665.00) rotate(-90)" text-anchor="end" font-size="15" textLength="8.60" lengthAdjust="spacingAndGlyphs" font-family='"DejaVu Sans","Noto Sans CJK JP",sans-serif'>6</text>
<text transform="translate(1406.00,665.00) rotate(-90)" text-anchor="end" font-size="15" textLength="8.60" lengthAdjust="spacingAndGlyphs" font-family='"DejaVu Sans","Noto Sans CJK JP",sans-serif'>7</text>
<text transform="translate(1416.18,665.00) rotate(-90)" text-anchor="end" font-size="15" textLength="8.60" lengthAdjust="spacingAndGlyphs" font-family='"DejaVu Sans","Noto Sans CJK JP",sans-serif'>8</text>
<text transform="translate(1426.36,665.00) rotate(-90)" text-anchor="end" font-size="15" textLength="8.60" lengthAdjust="spacingAndGlyphs" font-family='"DejaVu Sans","Noto Sans CJK JP",sans-serif'>9</text>
<text transform="translate(1436.54,665.00) rotate(-90)" text-anchor="end" font-size="15" textLength="17.21" lengthAdjust="spacingAndGlyphs" font-family='"DejaVu Sans","Noto Sans CJK JP",sans-serif'>10</text>
<text transform="translate(1446.72,665.00) rotate(-90)" text-anchor="end" font-size="15" textLength="17.21" lengthAdjust="spacingAndGlyphs" font-family='"DejaVu Sans","Noto Sans CJK JP",sans-serif'>11</text>
<text transform="translate(1456.90,665.00) rotate(-90)" text-anchor="end" font-size="15" textLength="17.21" lengthAdjust="spacingAndGlyphs" font-family='"DejaVu Sans","Noto Sans CJK JP",sans-serif'>12</text>
<text transform="translate(1467.08,665.00) rotate(-90)" text-anchor="end" font-size="15" textLength="8.60" lengthAdjust="spacingAndGlyphs" font-family='"DejaVu Sans","Noto Sans CJK JP",sans-serif'>1</text>
<text transform="translate(1477.26,665.00) rotate(-90)" text-anchor="end" font-size="15" textLength="8.60" lengthAdjust="spacingAndGlyphs" font-family='"DejaVu Sans","Noto Sans CJK JP",sans-serif'>2</text>
<text transform="translate(1487.44,665.00) rotate(-90)" text-anchor="end" font-size="15" textLength="8.60" lengthAdjust="spacingAndGlyphs" font-family='"DejaVu Sans","Noto Sans CJK JP",sans-serif'>3</text>
<text transform="translate(1497.62,665.00) rotate(-90)" text-anchor="end" font-size="15" textLength="8.60" lengthAdjust="spacingAndGlyphs" font-family='"DejaVu Sans","Noto Sans CJK JP",sans-serif'>4</text>
<text transform="translate(1507.80,665.00) rotate(-90)" text-anchor="end" font-size="15" textLength="8.60" lengthAdjust="spacingAndGlyphs" font-family='"DejaVu Sans","Noto Sans CJK JP",sans-serif'>5</text>
<text transform="translate(1517.98,665.00) rotate(-90)" text-anchor="end" font-size="15" textLength="8.60" lengthAdjust="spacingAndGlyphs" font-family='"DejaVu Sans","Noto Sans CJK JP",sans-serif'>6</text>
<text transform="translate(1528.16,665.00) rotate(-90)" text-anchor="end" font-size="15" textLength="8.60" lengthAdjust="spacingAndGlyphs" font-family='"DejaVu Sans","Noto Sans CJK JP",sans-serif'>7</text>
<text transform="translate(1538.34,665.00) rotate(-90)" text-anchor="end" font-size="15" textLength="8.60" lengthAdjust="spacingAndGlyphs" font-family='"DejaVu Sans","Noto Sans CJK JP",sans-serif'>8</text>
<text transform="translate(1548.52,665.00) rotate(-90)" text-anchor="end" font-size="15" textLength="8.60" lengthAdjust="spacingAndGlyphs" font-family='"DejaVu Sans","Noto Sans CJK JP",sans-serif'>9</text>
<text transform="translate(1558.70,665.00) rotate(-90)" text-anchor="end" font-size="15" textLength="17.21" lengthAdjust="spacingAndGlyphs" font-family='"DejaVu Sans","Noto Sans CJK JP",sans-serif'>10</text>
<text transform="translate(1568.88,665.00) rotate(-90)" text-anchor="end" font-size="15" textLength="17.21" lengthAdjust="spacingAndGlyphs" font-family='"DejaVu Sans","Noto Sans CJK JP",sans-serif'>11</text>
<text transform="translate(1579.06,665.00) rotate(-90)" text-anchor="end" font-size="15" textLength="17.21" lengthAdjust="spacingAndGlyphs" font-family='"DejaVu Sans","Noto Sans CJK JP",sans-serif'>12</text>
<text transform="translate(1589.24,665.00) rotate(-90)" text-anchor="end" font-size="15" textLength="8.60" lengthAdjust="spacingAndGlyphs" font-family='"DejaVu Sans","Noto Sans CJK JP",sans-serif'>1</text>
<text transform="translate(1599.42,665.00) rotate(-90)" text-anchor="end" font-size="15" textLength="8.60" lengthAdjust="spacingAndGlyphs" font-family='"DejaVu Sans","Noto Sans CJK JP",sans-serif'>2</text>
<text transform="translate(1609.60,665.00) rotate(-90)" text-anchor="end" font-size="15" textLength="8.60" lengthAdjust="spacingAndGlyphs" font-family='"DejaVu Sans","Noto Sans CJK JP",sans-serif'>3</text>
<line x1="1333.50" y1="654.10" x2="1333.50" y2="714.70" stroke="#000" stroke-width="1" />
<line x1="1455.50" y1="654.10" x2="1455.50" y2="714.70" stroke="#000" stroke-width="1" />
<line x1="1578.50" y1="654.10" x2="1578.50" y2="714.70" stroke="#000" stroke-width="1" />
<line x1="1608.50" y1="654.10" x2="1608.50" y2="714.70" stroke="#000" stroke-width="1" />
<text x="1272.68" y="711.30" font-size="14.9" fill="#000" text-anchor="middle" textLength="38.61" lengthAdjust="spacingAndGlyphs" font-family='"DejaVu Sans","Noto Sans CJK JP",sans-serif' >2019</text>
<text x="1394.84" y="711.30" font-size="14.9" fill="#000" text-anchor="middle" textLength="38.61" lengthAdjust="spacingAndGlyphs" font-family='"DejaVu Sans","Noto Sans CJK JP",sans-serif' >2020</text>
<text x="1517.00" y="711.30" font-size="14.9" fill="#000" text-anchor="middle" textLength="38.61" lengthAdjust="spacingAndGlyphs" font-family='"DejaVu Sans","Noto Sans CJK JP",sans-serif' >2021</text>
<text x="1593.35" y="711.30" font-size="14.9" fill="#000" text-anchor="middle" textLength="38.61" lengthAdjust="spacingAndGlyphs" font-family='"DejaVu Sans","Noto Sans CJK JP",sans-serif' >2022</text>
<rect x="1210.50" y="717.50" width="175.00" height="22.00" fill="#fff" stroke="#1a1a1a" stroke-width="1.3" />
<line x1="1227.20" y1="729.80" x2="1250.00" y2="729.80" stroke="#5b9bd5" stroke-width="2" />
<circle cx="1239.50" cy="729.80" r="2.7" fill="#fff" stroke="#5b9bd5" stroke-width="1.1"/>
<text transform="translate(1261.67,734.69) scale(1.0200,0.9200)" x="-7.67 7.37 22.40" y="0" font-size="15.33" fill="#000" font-family='"Liberation Sans","Noto Sans CJK JP",sans-serif'>製造業</text>
<line x1="1316.00" y1="729.80" x2="1338.80" y2="729.80" stroke="#ed7d31" stroke-width="2" />
<circle cx="1328.30" cy="729.80" r="2.7" fill="#fff" stroke="#ed7d31" stroke-width="1.1"/>
<text transform="translate(1350.12,734.69) scale(1.0200,0.9200)" x="-7.62 7.33" y="0" font-size="15.25" fill="#000" font-family='"Liberation Sans","Noto Sans CJK JP",sans-serif'>鉱業</text>
<text transform="translate(800.01,793.50) scale(0.8750,1.0000)" x="-9.76 8.55 26.86" y="0" font-size="19.53" font-weight="700" fill="#000" stroke="#000" stroke-width="0.25" stroke-linejoin="round" font-family='"Liberation Sans","Noto Sans CJK JP",sans-serif'>ロシア</text>
<text transform="translate(850.08,792.70) scale(1.0200,0.9200)" x="-10.01 9.62 29.25 48.89 68.52" y="0" font-size="20.03" font-weight="700" fill="#000" stroke="#000" stroke-width="0.25" stroke-linejoin="round" font-family='"Liberation Sans","Noto Sans CJK JP",sans-serif'>消費者物価</text>
<text transform="translate(948.20,793.50) scale(0.8750,1.0000)" x="-9.76 8.55 26.86 45.17" y="0" font-size="19.53" font-weight="700" fill="#000" stroke="#000" stroke-width="0.25" stroke-linejoin="round" font-family='"Liberation Sans","Noto Sans CJK JP",sans-serif'>インフレ</text>
<text transform="translate(1014.29,792.70) scale(1.0200,0.9200)" x="-10.01" y="0" font-size="20.03" font-weight="700" fill="#000" stroke="#000" stroke-width="0.25" stroke-linejoin="round" font-family='"Liberation Sans","Noto Sans CJK JP",sans-serif'>率</text>
<text transform="translate(695.99,819.20) scale(1.0000,1.0000)" x="-7.89" y="0" font-size="15.79" fill="#000" font-family='"Liberation Sans","Noto Sans CJK JP",sans-serif'>（</text>
<text transform="translate(711.78,818.57) scale(1.0200,0.9200)" x="-7.89 7.58 23.06 38.54 54.02" y="0" font-size="15.79" fill="#000" font-family='"Liberation Sans","Noto Sans CJK JP",sans-serif'>前年同月比</text>
<text transform="translate(790.72,819.91) scale(0.8500,0.7000)" x="-7.89" y="0" font-size="15.79" fill="#000" font-family='"Liberation Sans","Noto Sans CJK JP",sans-serif'>：</text>
<text x="799.11" y="819.20" font-size="15.79" fill="#000" textLength="14.00" lengthAdjust="spacingAndGlyphs" font-family='"DejaVu Sans","Noto Sans CJK JP",sans-serif'>%</text>
<text transform="translate(821.51,819.20) scale(1.0000,1.0000)" x="-7.89" y="0" font-size="15.79" fill="#000" font-family='"Liberation Sans","Noto Sans CJK JP",sans-serif'>）</text>
<line x1="724.20" y1="833.5" x2="1121.52" y2="833.5" stroke="#e8e8e8" stroke-width="1"/>
<text x="704.20" y="839.60" font-size="16.5" fill="#000" text-anchor="end" textLength="19.11" lengthAdjust="spacingAndGlyphs" font-family='"DejaVu Sans","Noto Sans CJK JP",sans-serif' >20</text>
<line x1="724.20" y1="868.5" x2="1121.52" y2="868.5" stroke="#e8e8e8" stroke-width="1"/>
<text x="704.20" y="874.05" font-size="16.5" fill="#000" text-anchor="end" textLength="19.11" lengthAdjust="spacingAndGlyphs" font-family='"DejaVu Sans","Noto Sans CJK JP",sans-serif' >15</text>
<line x1="724.20" y1="902.5" x2="1121.52" y2="902.5" stroke="#e8e8e8" stroke-width="1"/>
<text x="704.20" y="908.50" font-size="16.5" fill="#000" text-anchor="end" textLength="19.11" lengthAdjust="spacingAndGlyphs" font-family='"DejaVu Sans","Noto Sans CJK JP",sans-serif' >10</text>
<line x1="724.20" y1="936.5" x2="1121.52" y2="936.5" stroke="#e8e8e8" stroke-width="1"/>
<text x="704.20" y="942.95" font-size="16.5" fill="#000" text-anchor="end" textLength="9.55" lengthAdjust="spacingAndGlyphs" font-family='"DejaVu Sans","Noto Sans CJK JP",sans-serif' >5</text>
<text x="704.20" y="977.40" font-size="16.5" fill="#000" text-anchor="end" textLength="9.55" lengthAdjust="spacingAndGlyphs" font-family='"DejaVu Sans","Noto Sans CJK JP",sans-serif' >0</text>
<polyline points="729.17,936.95 739.10,935.57 749.03,934.88 758.97,935.57 768.90,936.26 778.83,939.02 788.76,939.71 798.70,941.77 808.63,943.84 818.56,945.22 828.50,947.28 838.43,950.73 848.36,954.86 858.30,955.55 868.23,954.17 878.16,950.04 888.09,950.73 898.03,949.35 907.96,947.97 917.89,946.60 927.83,945.91 937.76,943.84 947.69,941.08 957.63,937.64 967.56,935.57 977.49,932.13 987.42,931.44 997.36,933.50 1007.29,930.06 1017.22,926.62 1027.16,926.62 1037.09,925.24 1047.02,920.41 1056.96,915.59 1066.89,913.52 1076.82,913.52 1086.75,911.46 1096.69,908.01 1106.62,856.34 1116.55,848.76" fill="none" stroke="#5b9bd5" stroke-width="1.8" stroke-linejoin="round" />
<circle cx="729.17" cy="936.95" r="2.85" fill="#fff" stroke="#5b9bd5" stroke-width="1.1"/>
<circle cx="739.10" cy="935.57" r="2.85" fill="#fff" stroke="#5b9bd5" stroke-width="1.1"/>
<circle cx="749.03" cy="934.88" r="2.85" fill="#fff" stroke="#5b9bd5" stroke-width="1.1"/>
<circle cx="758.97" cy="935.57" r="2.85" fill="#fff" stroke="#5b9bd5" stroke-width="1.1"/>
<circle cx="768.90" cy="936.26" r="2.85" fill="#fff" stroke="#5b9bd5" stroke-width="1.1"/>
<circle cx="778.83" cy="939.02" r="2.85" fill="#fff" stroke="#5b9bd5" stroke-width="1.1"/>
<circle cx="788.76" cy="939.71" r="2.85" fill="#fff" stroke="#5b9bd5" stroke-width="1.1"/>
<circle cx="798.70" cy="941.77" r="2.85" fill="#fff" stroke="#5b9bd5" stroke-width="1.1"/>
<circle cx="808.63" cy="943.84" r="2.85" fill="#fff" stroke="#5b9bd5" stroke-width="1.1"/>
<circle cx="818.56" cy="945.22" r="2.85" fill="#fff" stroke="#5b9bd5" stroke-width="1.1"/>
<circle cx="828.50" cy="947.28" r="2.85" fill="#fff" stroke="#5b9bd5" stroke-width="1.1"/>
<circle cx="838.43" cy="950.73" r="2.85" fill="#fff" stroke="#5b9bd5" stroke-width="1.1"/>
<circle cx="848.36" cy="954.86" r="2.85" fill="#fff" stroke="#5b9bd5" stroke-width="1.1"/>
<circle cx="858.30" cy="955.55" r="2.85" fill="#fff" stroke="#5b9bd5" stroke-width="1.1"/>
<circle cx="868.23" cy="954.17" r="2.85" fill="#fff" stroke="#5b9bd5" stroke-width="1.1"/>
<circle cx="878.16" cy="950.04" r="2.85" fill="#fff" stroke="#5b9bd5" stroke-width="1.1"/>
<circle cx="888.09" cy="950.73" r="2.85" fill="#fff" stroke="#5b9bd5" stroke-width="1.1"/>
<circle cx="898.03" cy="949.35" r="2.85" fill="#fff" stroke="#5b9bd5" stroke-width="1.1"/>
<circle cx="907.96" cy="947.97" r="2.85" fill="#fff" stroke="#5b9bd5" stroke-width="1.1"/>
<circle cx="917.89" cy="946.60" r="2.85" fill="#fff" stroke="#5b9bd5" stroke-width="1.1"/>
<circle cx="927.83" cy="945.91" r="2.85" fill="#fff" stroke="#5b9bd5" stroke-width="1.1"/>
<circle cx="937.76" cy="943.84" r="2.85" fill="#fff" stroke="#5b9bd5" stroke-width="1.1"/>
<circle cx="947.69" cy="941.08" r="2.85" fill="#fff" stroke="#5b9bd5" stroke-width="1.1"/>
<circle cx="957.63" cy="937.64" r="2.85" fill="#fff" stroke="#5b9bd5" stroke-width="1.1"/>
<circle cx="967.56" cy="935.57" r="2.85" fill="#fff" stroke="#5b9bd5" stroke-width="1.1"/>
<circle cx="977.49" cy="932.13" r="2.85" fill="#fff" stroke="#5b9bd5" stroke-width="1.1"/>
<circle cx="987.42" cy="931.44" r="2.85" fill="#fff" stroke="#5b9bd5" stroke-width="1.1"/>
<circle cx="997.36" cy="933.50" r="2.85" fill="#fff" stroke="#5b9bd5" stroke-width="1.1"/>
<circle cx="1007.29" cy="930.06" r="2.85" fill="#fff" stroke="#5b9bd5" stroke-width="1.1"/>
<circle cx="1017.22" cy="926.62" r="2.85" fill="#fff" stroke="#5b9bd5" stroke-width="1.1"/>
<circle cx="1027.16" cy="926.62" r="2.85" fill="#fff" stroke="#5b9bd5" stroke-width="1.1"/>
<circle cx="1037.09" cy="925.24" r="2.85" fill="#fff" stroke="#5b9bd5" stroke-width="1.1"/>
<circle cx="1047.02" cy="920.41" r="2.85" fill="#fff" stroke="#5b9bd5" stroke-width="1.1"/>
<circle cx="1056.96" cy="915.59" r="2.85" fill="#fff" stroke="#5b9bd5" stroke-width="1.1"/>
<circle cx="1066.89" cy="913.52" r="2.85" fill="#fff" stroke="#5b9bd5" stroke-width="1.1"/>
<circle cx="1076.82" cy="913.52" r="2.85" fill="#fff" stroke="#5b9bd5" stroke-width="1.1"/>
<circle cx="1086.75" cy="911.46" r="2.85" fill="#fff" stroke="#5b9bd5" stroke-width="1.1"/>
<circle cx="1096.69" cy="908.01" r="2.85" fill="#fff" stroke="#5b9bd5" stroke-width="1.1"/>
<circle cx="1106.62" cy="856.34" r="2.85" fill="#fff" stroke="#5b9bd5" stroke-width="1.1"/>
<circle cx="1116.55" cy="848.76" r="2.85" fill="#fff" stroke="#5b9bd5" stroke-width="1.1"/>
<line x1="724.20" y1="833.60" x2="724.20" y2="1032.50" stroke="#595959" stroke-width="1.8" />
<line x1="723.30" y1="971.40" x2="1122.02" y2="971.40" stroke="#4d4d4d" stroke-width="1.5" />
<text transform="translate(735.24,984.00) rotate(-90)" text-anchor="end" font-size="15" textLength="8.60" lengthAdjust="spacingAndGlyphs" font-family='"DejaVu Sans","Noto Sans CJK JP",sans-serif'>1</text>
<text transform="translate(745.17,984.00) rotate(-90)" text-anchor="end" font-size="15" textLength="8.60" lengthAdjust="spacingAndGlyphs" font-family='"DejaVu Sans","Noto Sans CJK JP",sans-serif'>2</text>
<text transform="translate(755.11,984.00) rotate(-90)" text-anchor="end" font-size="15" textLength="8.60" lengthAdjust="spacingAndGlyphs" font-family='"DejaVu Sans","Noto Sans CJK JP",sans-serif'>3</text>
<text transform="translate(765.04,984.00) rotate(-90)" text-anchor="end" font-size="15" textLength="8.60" lengthAdjust="spacingAndGlyphs" font-family='"DejaVu Sans","Noto Sans CJK JP",sans-serif'>4</text>
<text transform="translate(774.97,984.00) rotate(-90)" text-anchor="end" font-size="15" textLength="8.60" lengthAdjust="spacingAndGlyphs" font-family='"DejaVu Sans","Noto Sans CJK JP",sans-serif'>5</text>
<text transform="translate(784.91,984.00) rotate(-90)" text-anchor="end" font-size="15" textLength="8.60" lengthAdjust="spacingAndGlyphs" font-family='"DejaVu Sans","Noto Sans CJK JP",sans-serif'>6</text>
<text transform="translate(794.84,984.00) rotate(-90)" text-anchor="end" font-size="15" textLength="8.60" lengthAdjust="spacingAndGlyphs" font-family='"DejaVu Sans","Noto Sans CJK JP",sans-serif'>7</text>
<text transform="translate(804.77,984.00) rotate(-90)" text-anchor="end" font-size="15" textLength="8.60" lengthAdjust="spacingAndGlyphs" font-family='"DejaVu Sans","Noto Sans CJK JP",sans-serif'>8</text>
<text transform="translate(814.71,984.00) rotate(-90)" text-anchor="end" font-size="15" textLength="8.60" lengthAdjust="spacingAndGlyphs" font-family='"DejaVu Sans","Noto Sans CJK JP",sans-serif'>9</text>
<text transform="translate(824.64,984.00) rotate(-90)" text-anchor="end" font-size="15" textLength="17.21" lengthAdjust="spacingAndGlyphs" font-family='"DejaVu Sans","Noto Sans CJK JP",sans-serif'>10</text>
<text transform="translate(834.57,984.00) rotate(-90)" text-anchor="end" font-size="15" textLength="17.21" lengthAdjust="spacingAndGlyphs" font-family='"DejaVu Sans","Noto Sans CJK JP",sans-serif'>11</text>
<text transform="translate(844.50,984.00) rotate(-90)" text-anchor="end" font-size="15" textLength="17.21" lengthAdjust="spacingAndGlyphs" font-family='"DejaVu Sans","Noto Sans CJK JP",sans-serif'>12</text>
<text transform="translate(854.44,984.00) rotate(-90)" text-anchor="end" font-size="15" textLength="8.60" lengthAdjust="spacingAndGlyphs" font-family='"DejaVu Sans","Noto Sans CJK JP",sans-serif'>1</text>
<text transform="translate(864.37,984.00) rotate(-90)" text-anchor="end" font-size="15" textLength="8.60" lengthAdjust="spacingAndGlyphs" font-family='"DejaVu Sans","Noto Sans CJK JP",sans-serif'>2</text>
<text transform="translate(874.30,984.00) rotate(-90)" text-anchor="end" font-size="15" textLength="8.60" lengthAdjust="spacingAndGlyphs" font-family='"DejaVu Sans","Noto Sans CJK JP",sans-serif'>3</text>
<text transform="translate(884.24,984.00) rotate(-90)" text-anchor="end" font-size="15" textLength="8.60" lengthAdjust="spacingAndGlyphs" font-family='"DejaVu Sans","Noto Sans CJK JP",sans-serif'>4</text>
<text transform="translate(894.17,984.00) rotate(-90)" text-anchor="end" font-size="15" textLength="8.60" lengthAdjust="spacingAndGlyphs" font-family='"DejaVu Sans","Noto Sans CJK JP",sans-serif'>5</text>
<text transform="translate(904.10,984.00) rotate(-90)" text-anchor="end" font-size="15" textLength="8.60" lengthAdjust="spacingAndGlyphs" font-family='"DejaVu Sans","Noto Sans CJK JP",sans-serif'>6</text>
<text transform="translate(914.04,984.00) rotate(-90)" text-anchor="end" font-size="15" textLength="8.60" lengthAdjust="spacingAndGlyphs" font-family='"DejaVu Sans","Noto Sans CJK JP",sans-serif'>7</text>
<text transform="translate(923.97,984.00) rotate(-90)" text-anchor="end" font-size="15" textLength="8.60" lengthAdjust="spacingAndGlyphs" font-family='"DejaVu Sans","Noto Sans CJK JP",sans-serif'>8</text>
<text transform="translate(933.90,984.00) rotate(-90)" text-anchor="end" font-size="15" textLength="8.60" lengthAdjust="spacingAndGlyphs" font-family='"DejaVu Sans","Noto Sans CJK JP",sans-serif'>9</text>
<text transform="translate(943.83,984.00) rotate(-90)" text-anchor="end" font-size="15" textLength="17.21" lengthAdjust="spacingAndGlyphs" font-family='"DejaVu Sans","Noto Sans CJK JP",sans-serif'>10</text>
<text transform="translate(953.77,984.00) rotate(-90)" text-anchor="end" font-size="15" textLength="17.21" lengthAdjust="spacingAndGlyphs" font-family='"DejaVu Sans","Noto Sans CJK JP",sans-serif'>11</text>
<text transform="translate(963.70,984.00) rotate(-90)" text-anchor="end" font-size="15" textLength="17.21" lengthAdjust="spacingAndGlyphs" font-family='"DejaVu Sans","Noto Sans CJK JP",sans-serif'>12</text>
<text transform="translate(973.63,984.00) rotate(-90)" text-anchor="end" font-size="15" textLength="8.60" lengthAdjust="spacingAndGlyphs" font-family='"DejaVu Sans","Noto Sans CJK JP",sans-serif'>1</text>
<text transform="translate(983.57,984.00) rotate(-90)" text-anchor="end" font-size="15" textLength="8.60" lengthAdjust="spacingAndGlyphs" font-family='"DejaVu Sans","Noto Sans CJK JP",sans-serif'>2</text>
<text transform="translate(993.50,984.00) rotate(-90)" text-anchor="end" font-size="15" textLength="8.60" lengthAdjust="spacingAndGlyphs" font-family='"DejaVu Sans","Noto Sans CJK JP",sans-serif'>3</text>
<text transform="translate(1003.43,984.00) rotate(-90)" text-anchor="end" font-size="15" textLength="8.60" lengthAdjust="spacingAndGlyphs" font-family='"DejaVu Sans","Noto Sans CJK JP",sans-serif'>4</text>
<text transform="translate(1013.37,984.00) rotate(-90)" text-anchor="end" font-size="15" textLength="8.60" lengthAdjust="spacingAndGlyphs" font-family='"DejaVu Sans","Noto Sans CJK JP",sans-serif'>5</text>
<text transform="translate(1023.30,984.00) rotate(-90)" text-anchor="end" font-size="15" textLength="8.60" lengthAdjust="spacingAndGlyphs" font-family='"DejaVu Sans","Noto Sans CJK JP",sans-serif'>6</text>
<text transform="translate(1033.23,984.00) rotate(-90)" text-anchor="end" font-size="15" textLength="8.60" lengthAdjust="spacingAndGlyphs" font-family='"DejaVu Sans","Noto Sans CJK JP",sans-serif'>7</text>
<text transform="translate(1043.16,984.00) rotate(-90)" text-anchor="end" font-size="15" textLength="8.60" lengthAdjust="spacingAndGlyphs" font-family='"DejaVu Sans","Noto Sans CJK JP",sans-serif'>8</text>
<text transform="translate(1053.10,984.00) rotate(-90)" text-anchor="end" font-size="15" textLength="8.60" lengthAdjust="spacingAndGlyphs" font-family='"DejaVu Sans","Noto Sans CJK JP",sans-serif'>9</text>
<text transform="translate(1063.03,984.00) rotate(-90)" text-anchor="end" font-size="15" textLength="17.21" lengthAdjust="spacingAndGlyphs" font-family='"DejaVu Sans","Noto Sans CJK JP",sans-serif'>10</text>
<text transform="translate(1072.96,984.00) rotate(-90)" text-anchor="end" font-size="15" textLength="17.21" lengthAdjust="spacingAndGlyphs" font-family='"DejaVu Sans","Noto Sans CJK JP",sans-serif'>11</text>
<text transform="translate(1082.90,984.00) rotate(-90)" text-anchor="end" font-size="15" textLength="17.21" lengthAdjust="spacingAndGlyphs" font-family='"DejaVu Sans","Noto Sans CJK JP",sans-serif'>12</text>
<text transform="translate(1092.83,984.00) rotate(-90)" text-anchor="end" font-size="15" textLength="8.60" lengthAdjust="spacingAndGlyphs" font-family='"DejaVu Sans","Noto Sans CJK JP",sans-serif'>1</text>
<text transform="translate(1102.76,984.00) rotate(-90)" text-anchor="end" font-size="15" textLength="8.60" lengthAdjust="spacingAndGlyphs" font-family='"DejaVu Sans","Noto Sans CJK JP",sans-serif'>2</text>
<text transform="translate(1112.70,984.00) rotate(-90)" text-anchor="end" font-size="15" textLength="8.60" lengthAdjust="spacingAndGlyphs" font-family='"DejaVu Sans","Noto Sans CJK JP",sans-serif'>3</text>
<text transform="translate(1122.63,984.00) rotate(-90)" text-anchor="end" font-size="15" textLength="8.60" lengthAdjust="spacingAndGlyphs" font-family='"DejaVu Sans","Noto Sans CJK JP",sans-serif'>4</text>
<line x1="843.50" y1="971.40" x2="843.50" y2="1032.50" stroke="#000" stroke-width="1" />
<line x1="962.50" y1="971.40" x2="962.50" y2="1032.50" stroke="#000" stroke-width="1" />
<line x1="1081.50" y1="971.40" x2="1081.50" y2="1032.50" stroke="#000" stroke-width="1" />
<line x1="1121.50" y1="971.40" x2="1121.50" y2="1032.50" stroke="#000" stroke-width="1" />
<text x="783.80" y="1029.20" font-size="14.9" fill="#000" text-anchor="middle" textLength="38.61" lengthAdjust="spacingAndGlyphs" font-family='"DejaVu Sans","Noto Sans CJK JP",sans-serif' >2019</text>
<text x="902.99" y="1029.20" font-size="14.9" fill="#000" text-anchor="middle" textLength="38.61" lengthAdjust="spacingAndGlyphs" font-family='"DejaVu Sans","Noto Sans CJK JP",sans-serif' >2020</text>
<text x="1022.19" y="1029.20" font-size="14.9" fill="#000" text-anchor="middle" textLength="38.61" lengthAdjust="spacingAndGlyphs" font-family='"DejaVu Sans","Noto Sans CJK JP",sans-serif' >2021</text>
<text x="1101.65" y="1029.20" font-size="14.9" fill="#000" text-anchor="middle" textLength="38.61" lengthAdjust="spacingAndGlyphs" font-family='"DejaVu Sans","Noto Sans CJK JP",sans-serif' >2022</text>
<text transform="translate(719.29,1098.48) scale(1.0200,0.9200)" x="-10.29 9.89" y="0" font-size="20.59" fill="#000" font-family='"Liberation Sans","Noto Sans CJK JP",sans-serif'>資料</text>
<text transform="translate(760.47,1100.23) scale(0.8500,0.7000)" x="-10.29" y="0" font-size="20.59" fill="#000" font-family='"Liberation Sans","Noto Sans CJK JP",sans-serif'>：</text>
<text x="771.26" y="1099.30" font-size="20.00" fill="#000" textLength="46.83" lengthAdjust="spacingAndGlyphs" font-family='"DejaVu Sans","Noto Sans CJK JP",sans-serif'>CEIC</text>
<text transform="translate(827.64,1099.30) scale(1.0000,1.0000)" x="-9.06" y="0" font-size="18.12" fill="#000" font-family='"Liberation Sans","Noto Sans CJK JP",sans-serif'>、</text>
<text transform="translate(841.23,1099.30) scale(0.8750,1.0000)" x="-10.04 8.79 27.61" y="0" font-size="20.07" fill="#000" font-family='"Liberation Sans","Noto Sans CJK JP",sans-serif'>ロシア</text>
<text transform="translate(892.69,1098.48) scale(1.0200,0.9200)" x="-10.29 9.89 30.07 50.25" y="0" font-size="20.59" fill="#000" font-family='"Liberation Sans","Noto Sans CJK JP",sans-serif'>中央銀行</text>
<text transform="translate(973.80,1099.30) scale(1.0000,1.0000)" x="-9.06" y="0" font-size="18.12" fill="#000" font-family='"Liberation Sans","Noto Sans CJK JP",sans-serif'>、</text>
<text transform="translate(989.45,1098.48) scale(1.0200,0.9200)" x="-10.29 9.89 30.07 50.25" y="0" font-size="20.59" fill="#000" font-family='"Liberation Sans","Noto Sans CJK JP",sans-serif'>世界銀行</text>
<text x="1592.80" y="1112.40" font-size="30.7" fill="#000" font-family='"DejaVu Sans","Noto Sans CJK JP",sans-serif' >9</text>
<text transform="translate(1306.36,793.50) scale(0.8750,1.0000)" x="-10.19 8.92 28.04" y="0" font-size="20.38" font-weight="700" fill="#000" stroke="#000" stroke-width="0.25" stroke-linejoin="round" font-family='"Liberation Sans","Noto Sans CJK JP",sans-serif'>ロシア</text>
<text transform="translate(1357.79,793.50) scale(0.9150,1.0000)" x="-10.35" y="0" font-size="20.70" font-weight="700" fill="#000" stroke="#000" stroke-width="0.25" stroke-linejoin="round" font-family='"Liberation Sans","Noto Sans CJK JP",sans-serif'>の</text>
<text transform="translate(1377.86,792.66) scale(1.0200,0.9200)" x="-10.45 10.04 30.54 51.03" y="0" font-size="20.91" font-weight="700" fill="#000" stroke="#000" stroke-width="0.25" stroke-linejoin="round" font-family='"Liberation Sans","Noto Sans CJK JP",sans-serif'>経済見通</text>
<text transform="translate(1458.76,793.50) scale(0.9150,1.0000)" x="-10.35" y="0" font-size="20.70" font-weight="700" fill="#000" stroke="#000" stroke-width="0.25" stroke-linejoin="round" font-family='"Liberation Sans","Noto Sans CJK JP",sans-serif'>し</text>
<rect x="1126.50" y="821.80" width="493.20" height="32.50" fill="#5b9bd5" stroke="none" stroke-width="1" />
<line x1="1322.20" y1="821.80" x2="1322.20" y2="854.30" stroke="#fff" stroke-width="1.2" />
<line x1="1380.30" y1="821.80" x2="1380.30" y2="854.30" stroke="#fff" stroke-width="1.2" />
<line x1="1468.40" y1="821.80" x2="1468.40" y2="854.30" stroke="#fff" stroke-width="1.2" />
<line x1="1546.70" y1="821.80" x2="1546.70" y2="854.30" stroke="#fff" stroke-width="1.2" />
<line x1="1127.50" y1="822.40" x2="1322.20" y2="854.30" stroke="#fff" stroke-width="1.0" />
<rect x="1126.50" y="821.50" width="493.00" height="166.00" fill="none" stroke="#000" stroke-width="1.25" />
<line x1="1126.50" y1="854.50" x2="1619.70" y2="854.50" stroke="#202020" stroke-width="1.1" />
<line x1="1126.50" y1="921.50" x2="1619.70" y2="921.50" stroke="#202020" stroke-width="1.1" />
<line x1="1224.40" y1="887.50" x2="1322.20" y2="887.50" stroke="#202020" stroke-width="1.1" />
<line x1="1380.30" y1="887.50" x2="1619.70" y2="887.50" stroke="#202020" stroke-width="1.1" />
<line x1="1224.40" y1="954.50" x2="1322.20" y2="954.50" stroke="#202020" stroke-width="1.1" />
<line x1="1380.30" y1="954.50" x2="1619.70" y2="954.50" stroke="#202020" stroke-width="1.1" />
<line x1="1224.50" y1="854.30" x2="1224.50" y2="987.20" stroke="#202020" stroke-width="1.1" />
<line x1="1322.50" y1="854.30" x2="1322.50" y2="987.20" stroke="#202020" stroke-width="1.1" />
<line x1="1380.50" y1="854.30" x2="1380.50" y2="987.20" stroke="#202020" stroke-width="1.1" />
<line x1="1468.50" y1="854.30" x2="1468.50" y2="987.20" stroke="#202020" stroke-width="1.1" />
<line x1="1546.50" y1="854.30" x2="1546.50" y2="987.20" stroke="#202020" stroke-width="1.1" />
<text x="1331.05" y="834.00" font-size="12.60" fill="#fff" textLength="29.15" lengthAdjust="spacingAndGlyphs" font-family='"DejaVu Sans","Noto Sans CJK JP",sans-serif'>2021</text>
<text transform="translate(1366.63,833.53) scale(1.0200,0.9200)" x="-5.92" y="0" font-size="11.85" fill="#fff" font-family='"Liberation Sans","Noto Sans CJK JP",sans-serif'>年</text>
<text transform="translate(1332.80,850.20) scale(1.0000,1.0000)" x="-6.25" y="0" font-size="12.50" fill="#fff" font-family='"Liberation Sans","Noto Sans CJK JP",sans-serif'>（</text>
<text transform="translate(1345.30,849.70) scale(1.0200,0.9200)" x="-6.25 6.00" y="0" font-size="12.50" fill="#fff" font-family='"Liberation Sans","Noto Sans CJK JP",sans-serif'>実績</text>
<text transform="translate(1370.30,850.20) scale(1.0000,1.0000)" x="-6.25" y="0" font-size="12.50" fill="#fff" font-family='"Liberation Sans","Noto Sans CJK JP",sans-serif'>）</text>
<text x="1403.85" y="842.30" font-size="12.60" fill="#fff" textLength="29.15" lengthAdjust="spacingAndGlyphs" font-family='"DejaVu Sans","Noto Sans CJK JP",sans-serif'>2022</text>
<text transform="translate(1439.43,841.83) scale(1.0200,0.9200)" x="-5.92" y="0" font-size="11.85" fill="#fff" font-family='"Liberation Sans","Noto Sans CJK JP",sans-serif'>年</text>
<text x="1487.05" y="842.30" font-size="12.60" fill="#fff" textLength="29.15" lengthAdjust="spacingAndGlyphs" font-family='"DejaVu Sans","Noto Sans CJK JP",sans-serif'>2023</text>
<text transform="translate(1522.63,841.83) scale(1.0200,0.9200)" x="-5.92" y="0" font-size="11.85" fill="#fff" font-family='"Liberation Sans","Noto Sans CJK JP",sans-serif'>年</text>
<text x="1562.70" y="842.30" font-size="12.60" fill="#fff" textLength="29.15" lengthAdjust="spacingAndGlyphs" font-family='"DejaVu Sans","Noto Sans CJK JP",sans-serif'>2024</text>
<text transform="translate(1598.28,841.83) scale(1.0200,0.9200)" x="-5.92" y="0" font-size="11.85" fill="#fff" font-family='"Liberation Sans","Noto Sans CJK JP",sans-serif'>年</text>
<text transform="translate(1139.18,890.73) scale(1.0200,0.9200)" x="-5.88 5.65" y="0" font-size="11.75" fill="#000" font-family='"Liberation Sans","Noto Sans CJK JP",sans-serif'>実質</text>
<text x="1157.30" y="891.20" font-size="12.40" fill="#000" textLength="24.24" lengthAdjust="spacingAndGlyphs" font-family='"DejaVu Sans","Noto Sans CJK JP",sans-serif'>GDP</text>
<text transform="translate(1187.92,890.73) scale(1.0200,0.9200)" x="-5.88 5.65 17.17" y="0" font-size="11.75" fill="#000" font-family='"Liberation Sans","Noto Sans CJK JP",sans-serif'>成長率</text>
<text transform="translate(1156.28,958.20) scale(0.8750,1.0000)" x="-5.46 4.78 15.01 25.24" y="0" font-size="10.91" fill="#000" font-family='"Liberation Sans","Noto Sans CJK JP",sans-serif'>インフレ</text>
<text transform="translate(1193.20,957.75) scale(1.0200,0.9200)" x="-5.60" y="0" font-size="11.19" fill="#000" font-family='"Liberation Sans","Noto Sans CJK JP",sans-serif'>率</text>
<text transform="translate(1252.23,867.20) scale(0.8750,1.0000)" x="-5.76 5.04 15.85" y="0" font-size="11.52" fill="#000" font-family='"Liberation Sans","Noto Sans CJK JP",sans-serif'>ロシア</text>
<text transform="translate(1281.77,866.73) scale(1.0200,0.9200)" x="-5.91 5.68" y="0" font-size="11.82" fill="#000" font-family='"Liberation Sans","Noto Sans CJK JP",sans-serif'>中銀</text>
<text transform="translate(1237.35,883.40) scale(1.0000,1.0000)" x="-5.85" y="0" font-size="11.70" fill="#000" font-family='"Liberation Sans","Noto Sans CJK JP",sans-serif'>（</text>
<text x="1243.70" y="883.40" font-size="11.70" fill="#000" textLength="28.77" lengthAdjust="spacingAndGlyphs" font-family='"DejaVu Sans","Noto Sans CJK JP",sans-serif'>2022</text>
<text transform="translate(1278.81,882.93) scale(1.0200,0.9200)" x="-5.85" y="0" font-size="11.70" fill="#000" font-family='"Liberation Sans","Noto Sans CJK JP",sans-serif'>年</text>
<text x="1285.16" y="883.40" font-size="11.70" fill="#000" textLength="6.44" lengthAdjust="spacingAndGlyphs" font-family='"DejaVu Sans","Noto Sans CJK JP",sans-serif'>5</text>
<text transform="translate(1297.95,882.93) scale(1.0200,0.9200)" x="-5.85" y="0" font-size="11.70" fill="#000" font-family='"Liberation Sans","Noto Sans CJK JP",sans-serif'>月</text>
<text transform="translate(1309.65,883.40) scale(1.0000,1.0000)" x="-5.85" y="0" font-size="11.70" fill="#000" font-family='"Liberation Sans","Noto Sans CJK JP",sans-serif'>）</text>
<text transform="translate(1255.88,899.93) scale(1.0200,0.9200)" x="-5.88 5.64 17.16 28.68" y="0" font-size="11.75" fill="#000" font-family='"Liberation Sans","Noto Sans CJK JP",sans-serif'>世界銀行</text>
<text transform="translate(1237.35,916.60) scale(1.0000,1.0000)" x="-5.85" y="0" font-size="11.70" fill="#000" font-family='"Liberation Sans","Noto Sans CJK JP",sans-serif'>（</text>
<text x="1243.70" y="916.60" font-size="11.70" fill="#000" textLength="28.77" lengthAdjust="spacingAndGlyphs" font-family='"DejaVu Sans","Noto Sans CJK JP",sans-serif'>2022</text>
<text transform="translate(1278.81,916.13) scale(1.0200,0.9200)" x="-5.85" y="0" font-size="11.70" fill="#000" font-family='"Liberation Sans","Noto Sans CJK JP",sans-serif'>年</text>
<text x="1285.16" y="916.60" font-size="11.70" fill="#000" textLength="6.44" lengthAdjust="spacingAndGlyphs" font-family='"DejaVu Sans","Noto Sans CJK JP",sans-serif'>4</text>
<text transform="translate(1297.95,916.13) scale(1.0200,0.9200)" x="-5.85" y="0" font-size="11.70" fill="#000" font-family='"Liberation Sans","Noto Sans CJK JP",sans-serif'>月</text>
<text transform="translate(1309.65,916.60) scale(1.0000,1.0000)" x="-5.85" y="0" font-size="11.70" fill="#000" font-family='"Liberation Sans","Noto Sans CJK JP",sans-serif'>）</text>
<text transform="translate(1252.23,933.40) scale(0.8750,1.0000)" x="-5.76 5.04 15.85" y="0" font-size="11.52" fill="#000" font-family='"Liberation Sans","Noto Sans CJK JP",sans-serif'>ロシア</text>
<text transform="translate(1281.77,932.93) scale(1.0200,0.9200)" x="-5.91 5.68" y="0" font-size="11.82" fill="#000" font-family='"Liberation Sans","Noto Sans CJK JP",sans-serif'>中銀</text>
<text transform="translate(1237.35,949.60) scale(1.0000,1.0000)" x="-5.85" y="0" font-size="11.70" fill="#000" font-family='"Liberation Sans","Noto Sans CJK JP",sans-serif'>（</text>
<text x="1243.70" y="949.60" font-size="11.70" fill="#000" textLength="28.77" lengthAdjust="spacingAndGlyphs" font-family='"DejaVu Sans","Noto Sans CJK JP",sans-serif'>2022</text>
<text transform="translate(1278.81,949.13) scale(1.0200,0.9200)" x="-5.85" y="0" font-size="11.70" fill="#000" font-family='"Liberation Sans","Noto Sans CJK JP",sans-serif'>年</text>
<text x="1285.16" y="949.60" font-size="11.70" fill="#000" textLength="6.44" lengthAdjust="spacingAndGlyphs" font-family='"DejaVu Sans","Noto Sans CJK JP",sans-serif'>5</text>
<text transform="translate(1297.95,949.13) scale(1.0200,0.9200)" x="-5.85" y="0" font-size="11.70" fill="#000" font-family='"Liberation Sans","Noto Sans CJK JP",sans-serif'>月</text>
<text transform="translate(1309.65,949.60) scale(1.0000,1.0000)" x="-5.85" y="0" font-size="11.70" fill="#000" font-family='"Liberation Sans","Noto Sans CJK JP",sans-serif'>）</text>
<text transform="translate(1255.88,966.53) scale(1.0200,0.9200)" x="-5.88 5.64 17.16 28.68" y="0" font-size="11.75" fill="#000" font-family='"Liberation Sans","Noto Sans CJK JP",sans-serif'>世界銀行</text>
<text transform="translate(1237.35,983.20) scale(1.0000,1.0000)" x="-5.85" y="0" font-size="11.70" fill="#000" font-family='"Liberation Sans","Noto Sans CJK JP",sans-serif'>（</text>
<text x="1243.70" y="983.20" font-size="11.70" fill="#000" textLength="28.77" lengthAdjust="spacingAndGlyphs" font-family='"DejaVu Sans","Noto Sans CJK JP",sans-serif'>2022</text>
<text transform="translate(1278.81,982.73) scale(1.0200,0.9200)" x="-5.85" y="0" font-size="11.70" fill="#000" font-family='"Liberation Sans","Noto Sans CJK JP",sans-serif'>年</text>
<text x="1285.16" y="983.20" font-size="11.70" fill="#000" textLength="6.44" lengthAdjust="spacingAndGlyphs" font-family='"DejaVu Sans","Noto Sans CJK JP",sans-serif'>4</text>
<text transform="translate(1297.95,982.73) scale(1.0200,0.9200)" x="-5.85" y="0" font-size="11.70" fill="#000" font-family='"Liberation Sans","Noto Sans CJK JP",sans-serif'>月</text>
<text transform="translate(1309.65,983.20) scale(1.0000,1.0000)" x="-5.85" y="0" font-size="11.70" fill="#000" font-family='"Liberation Sans","Noto Sans CJK JP",sans-serif'>）</text>
<text x="1349.50" y="891.30" font-size="12.3" fill="#1a1a1a" text-anchor="middle" textLength="18.97" lengthAdjust="spacingAndGlyphs" font-family='"DejaVu Sans","Noto Sans CJK JP",sans-serif' >4.7</text>
<text x="1349.50" y="958.30" font-size="12.3" fill="#1a1a1a" text-anchor="middle" textLength="18.97" lengthAdjust="spacingAndGlyphs" font-family='"DejaVu Sans","Noto Sans CJK JP",sans-serif' >8.4</text>
<text x="1386.69" y="875.50" font-size="12.3" fill="#1a1a1a" textLength="23.28" lengthAdjust="spacingAndGlyphs" font-family='"DejaVu Sans","Noto Sans CJK JP",sans-serif' >-8.0</text>
<text x="1413.90" y="875.30" font-size="12.3" fill="#1a1a1a" font-family='"Liberation Sans","Noto Sans CJK JP",sans-serif' >～</text>
<text x="1430.14" y="875.50" font-size="12.3" fill="#1a1a1a" textLength="30.87" lengthAdjust="spacingAndGlyphs" font-family='"DejaVu Sans","Noto Sans CJK JP",sans-serif' >-10.0</text>
<text x="1475.84" y="875.50" font-size="12.3" fill="#1a1a1a" textLength="23.28" lengthAdjust="spacingAndGlyphs" font-family='"DejaVu Sans","Noto Sans CJK JP",sans-serif' >-3.0</text>
<text x="1503.05" y="875.30" font-size="12.3" fill="#1a1a1a" font-family='"Liberation Sans","Noto Sans CJK JP",sans-serif' >～</text>
<text x="1519.29" y="875.50" font-size="12.3" fill="#1a1a1a" textLength="18.97" lengthAdjust="spacingAndGlyphs" font-family='"DejaVu Sans","Noto Sans CJK JP",sans-serif' >0.0</text>
<text x="1553.64" y="875.50" font-size="12.3" fill="#1a1a1a" textLength="18.97" lengthAdjust="spacingAndGlyphs" font-family='"DejaVu Sans","Noto Sans CJK JP",sans-serif' >2.5</text>
<text x="1576.55" y="875.30" font-size="12.3" fill="#1a1a1a" font-family='"Liberation Sans","Noto Sans CJK JP",sans-serif' >～</text>
<text x="1592.79" y="875.50" font-size="12.3" fill="#1a1a1a" textLength="18.97" lengthAdjust="spacingAndGlyphs" font-family='"DejaVu Sans","Noto Sans CJK JP",sans-serif' >3.5</text>
<text x="1423.85" y="909.00" font-size="12.3" fill="#1a1a1a" text-anchor="middle" textLength="30.87" lengthAdjust="spacingAndGlyphs" font-family='"DejaVu Sans","Noto Sans CJK JP",sans-serif' >-11.2</text>
<text x="1507.05" y="909.00" font-size="12.3" fill="#1a1a1a" text-anchor="middle" textLength="18.97" lengthAdjust="spacingAndGlyphs" font-family='"DejaVu Sans","Noto Sans CJK JP",sans-serif' >0.6</text>
<text x="1582.70" y="909.00" font-size="12.3" fill="#1a1a1a" text-anchor="middle" textLength="18.97" lengthAdjust="spacingAndGlyphs" font-family='"DejaVu Sans","Noto Sans CJK JP",sans-serif' >1.3</text>
<text x="1387.20" y="942.30" font-size="12.3" fill="#1a1a1a" textLength="26.57" lengthAdjust="spacingAndGlyphs" font-family='"DejaVu Sans","Noto Sans CJK JP",sans-serif' >18.0</text>
<text x="1417.70" y="942.10" font-size="12.3" fill="#1a1a1a" font-family='"Liberation Sans","Noto Sans CJK JP",sans-serif' >～</text>
<text x="1433.94" y="942.30" font-size="12.3" fill="#1a1a1a" textLength="26.57" lengthAdjust="spacingAndGlyphs" font-family='"DejaVu Sans","Noto Sans CJK JP",sans-serif' >23.0</text>
<text x="1477.99" y="942.30" font-size="12.3" fill="#1a1a1a" textLength="18.97" lengthAdjust="spacingAndGlyphs" font-family='"DejaVu Sans","Noto Sans CJK JP",sans-serif' >5.0</text>
<text x="1500.90" y="942.10" font-size="12.3" fill="#1a1a1a" font-family='"Liberation Sans","Noto Sans CJK JP",sans-serif' >～</text>
<text x="1517.14" y="942.30" font-size="12.3" fill="#1a1a1a" textLength="18.97" lengthAdjust="spacingAndGlyphs" font-family='"DejaVu Sans","Noto Sans CJK JP",sans-serif' >7.0</text>
<text x="1582.70" y="942.30" font-size="12.3" fill="#1a1a1a" text-anchor="middle" textLength="18.97" lengthAdjust="spacingAndGlyphs" font-family='"DejaVu Sans","Noto Sans CJK JP",sans-serif' >4.0</text>
<text x="1423.85" y="975.20" font-size="12.3" fill="#1a1a1a" text-anchor="middle" textLength="26.57" lengthAdjust="spacingAndGlyphs" font-family='"DejaVu Sans","Noto Sans CJK JP",sans-serif' >22.0</text>
<text x="1507.05" y="975.20" font-size="12.3" fill="#1a1a1a" text-anchor="middle" textLength="26.57" lengthAdjust="spacingAndGlyphs" font-family='"DejaVu Sans","Noto Sans CJK JP",sans-serif' >13.0</text>
<text x="1582.70" y="975.20" font-size="12.3" fill="#1a1a1a" text-anchor="middle" textLength="18.97" lengthAdjust="spacingAndGlyphs" font-family='"DejaVu Sans","Noto Sans CJK JP",sans-serif' >8.0</text>
</svg>
</body></html>
